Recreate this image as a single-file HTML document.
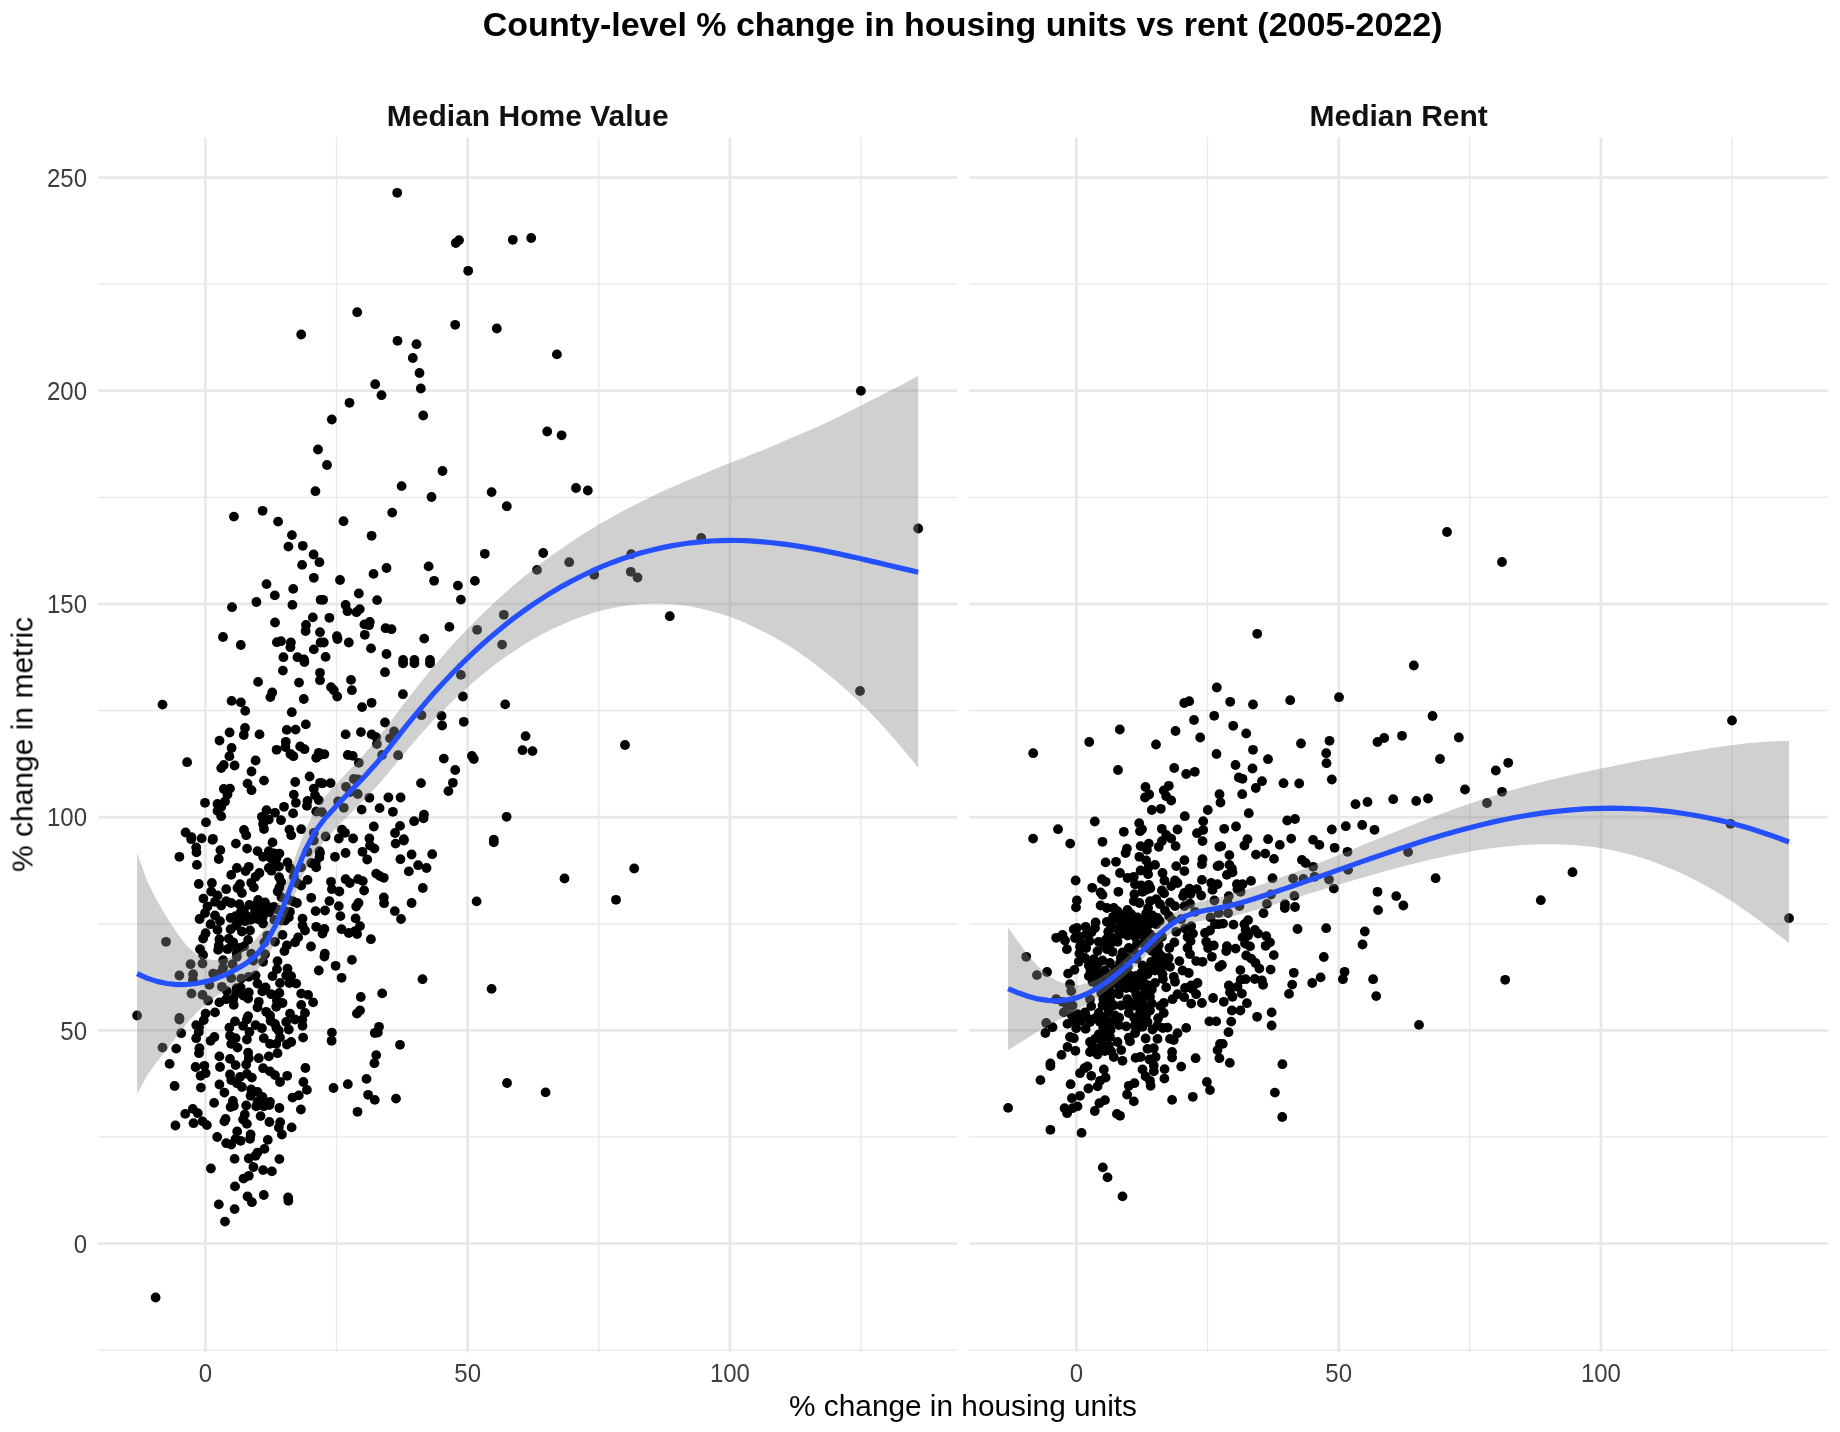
<!DOCTYPE html><html><head><meta charset="utf-8"><style>html,body{margin:0;padding:0;background:#fff}svg{display:block}text{font-family:"Liberation Sans",sans-serif}</style></head><body>
<svg width="1840" height="1432" viewBox="0 0 1840 1432">
<rect width="1840" height="1432" fill="#fff"/>
<path d="M98.2 1350.10H957.2M98.2 1136.90H957.2M98.2 923.70H957.2M98.2 710.50H957.2M98.2 497.30H957.2M98.2 284.10H957.2M336.52 137.5V1352.3M598.77 137.5V1352.3M861.02 137.5V1352.3" stroke="#E8E8E8" stroke-width="1.35" fill="none"/>
<path d="M98.2 1243.50H957.2M98.2 1030.30H957.2M98.2 817.10H957.2M98.2 603.90H957.2M98.2 390.70H957.2M98.2 177.50H957.2M205.40 137.5V1352.3M467.65 137.5V1352.3M729.90 137.5V1352.3" stroke="#E8E8E8" stroke-width="2.7" fill="none"/>
<path d="M969.2 1350.10H1828.2M969.2 1136.90H1828.2M969.2 923.70H1828.2M969.2 710.50H1828.2M969.2 497.30H1828.2M969.2 284.10H1828.2M1207.53 137.5V1352.3M1469.78 137.5V1352.3M1732.03 137.5V1352.3" stroke="#E8E8E8" stroke-width="1.35" fill="none"/>
<path d="M969.2 1243.50H1828.2M969.2 1030.30H1828.2M969.2 817.10H1828.2M969.2 603.90H1828.2M969.2 390.70H1828.2M969.2 177.50H1828.2M1076.40 137.5V1352.3M1338.65 137.5V1352.3M1600.90 137.5V1352.3" stroke="#E8E8E8" stroke-width="2.7" fill="none"/>
<g fill="#000"><circle cx="315.4" cy="491.2" r="4.9"/><circle cx="233.9" cy="516.6" r="4.9"/><circle cx="262.6" cy="510.8" r="4.9"/><circle cx="278.1" cy="521.6" r="4.9"/><circle cx="291.9" cy="535.1" r="4.9"/><circle cx="288.4" cy="546.6" r="4.9"/><circle cx="302.8" cy="545.8" r="4.9"/><circle cx="313.6" cy="554.5" r="4.9"/><circle cx="319.4" cy="562.2" r="4.9"/><circle cx="302.1" cy="564.9" r="4.9"/><circle cx="313.8" cy="577.8" r="4.9"/><circle cx="266.5" cy="584.1" r="4.9"/><circle cx="293.2" cy="588.9" r="4.9"/><circle cx="274.8" cy="595.4" r="4.9"/><circle cx="256.4" cy="602.0" r="4.9"/><circle cx="232.0" cy="607.2" r="4.9"/><circle cx="292.4" cy="604.9" r="4.9"/><circle cx="320.6" cy="599.8" r="4.9"/><circle cx="312.8" cy="617.4" r="4.9"/><circle cx="275.0" cy="622.5" r="4.9"/><circle cx="306.0" cy="625.0" r="4.9"/><circle cx="305.6" cy="631.0" r="4.9"/><circle cx="320.0" cy="632.2" r="4.9"/><circle cx="223.0" cy="637.0" r="4.9"/><circle cx="240.8" cy="645.0" r="4.9"/><circle cx="276.9" cy="642.2" r="4.9"/><circle cx="281.0" cy="641.2" r="4.9"/><circle cx="290.9" cy="642.5" r="4.9"/><circle cx="290.4" cy="647.2" r="4.9"/><circle cx="313.8" cy="649.4" r="4.9"/><circle cx="320.6" cy="642.5" r="4.9"/><circle cx="283.4" cy="657.2" r="4.9"/><circle cx="297.5" cy="657.2" r="4.9"/><circle cx="304.0" cy="659.4" r="4.9"/><circle cx="401.6" cy="486.1" r="4.9"/><circle cx="431.5" cy="497.0" r="4.9"/><circle cx="491.6" cy="492.1" r="4.9"/><circle cx="506.8" cy="506.2" r="4.9"/><circle cx="392.2" cy="512.6" r="4.9"/><circle cx="343.5" cy="521.2" r="4.9"/><circle cx="371.6" cy="535.8" r="4.9"/><circle cx="484.8" cy="553.8" r="4.9"/><circle cx="543.2" cy="553.0" r="4.9"/><circle cx="386.5" cy="568.0" r="4.9"/><circle cx="428.6" cy="566.4" r="4.9"/><circle cx="373.5" cy="573.9" r="4.9"/><circle cx="340.0" cy="580.0" r="4.9"/><circle cx="434.1" cy="580.8" r="4.9"/><circle cx="474.9" cy="580.9" r="4.9"/><circle cx="457.9" cy="585.6" r="4.9"/><circle cx="537.0" cy="569.9" r="4.9"/><circle cx="358.8" cy="593.5" r="4.9"/><circle cx="323.1" cy="599.8" r="4.9"/><circle cx="377.1" cy="600.1" r="4.9"/><circle cx="460.9" cy="599.6" r="4.9"/><circle cx="345.6" cy="605.0" r="4.9"/><circle cx="347.5" cy="611.2" r="4.9"/><circle cx="359.8" cy="609.1" r="4.9"/><circle cx="356.5" cy="612.2" r="4.9"/><circle cx="329.4" cy="617.8" r="4.9"/><circle cx="369.8" cy="621.9" r="4.9"/><circle cx="364.4" cy="624.4" r="4.9"/><circle cx="369.0" cy="625.2" r="4.9"/><circle cx="503.8" cy="614.8" r="4.9"/><circle cx="385.6" cy="628.2" r="4.9"/><circle cx="391.5" cy="629.2" r="4.9"/><circle cx="449.4" cy="626.9" r="4.9"/><circle cx="477.1" cy="629.8" r="4.9"/><circle cx="336.9" cy="636.2" r="4.9"/><circle cx="337.5" cy="639.0" r="4.9"/><circle cx="364.8" cy="634.8" r="4.9"/><circle cx="424.2" cy="638.6" r="4.9"/><circle cx="323.8" cy="642.5" r="4.9"/><circle cx="348.8" cy="642.5" r="4.9"/><circle cx="371.0" cy="648.4" r="4.9"/><circle cx="502.1" cy="644.6" r="4.9"/><circle cx="386.5" cy="654.0" r="4.9"/><circle cx="325.6" cy="656.9" r="4.9"/><circle cx="403.1" cy="660.0" r="4.9"/><circle cx="414.4" cy="660.0" r="4.9"/><circle cx="430.0" cy="660.0" r="4.9"/><circle cx="304.4" cy="662.1" r="4.9"/><circle cx="282.9" cy="670.6" r="4.9"/><circle cx="320.0" cy="672.8" r="4.9"/><circle cx="320.0" cy="680.2" r="4.9"/><circle cx="258.1" cy="681.9" r="4.9"/><circle cx="299.0" cy="682.6" r="4.9"/><circle cx="272.2" cy="692.5" r="4.9"/><circle cx="270.4" cy="697.1" r="4.9"/><circle cx="303.8" cy="699.0" r="4.9"/><circle cx="231.6" cy="700.9" r="4.9"/><circle cx="240.9" cy="702.4" r="4.9"/><circle cx="162.5" cy="704.6" r="4.9"/><circle cx="245.2" cy="710.9" r="4.9"/><circle cx="291.8" cy="712.2" r="4.9"/><circle cx="305.8" cy="724.4" r="4.9"/><circle cx="245.0" cy="728.0" r="4.9"/><circle cx="286.8" cy="729.9" r="4.9"/><circle cx="295.6" cy="729.6" r="4.9"/><circle cx="229.6" cy="732.5" r="4.9"/><circle cx="243.8" cy="735.0" r="4.9"/><circle cx="259.5" cy="734.4" r="4.9"/><circle cx="219.5" cy="740.6" r="4.9"/><circle cx="285.8" cy="741.8" r="4.9"/><circle cx="231.6" cy="748.0" r="4.9"/><circle cx="276.6" cy="749.8" r="4.9"/><circle cx="285.4" cy="747.1" r="4.9"/><circle cx="300.2" cy="746.5" r="4.9"/><circle cx="304.5" cy="749.2" r="4.9"/><circle cx="290.4" cy="754.0" r="4.9"/><circle cx="293.4" cy="756.2" r="4.9"/><circle cx="318.8" cy="752.8" r="4.9"/><circle cx="316.2" cy="757.8" r="4.9"/><circle cx="229.4" cy="756.2" r="4.9"/><circle cx="255.6" cy="760.5" r="4.9"/><circle cx="187.1" cy="762.2" r="4.9"/><circle cx="223.8" cy="765.0" r="4.9"/><circle cx="221.2" cy="768.1" r="4.9"/><circle cx="234.6" cy="765.5" r="4.9"/><circle cx="251.5" cy="771.5" r="4.9"/><circle cx="309.6" cy="776.5" r="4.9"/><circle cx="264.0" cy="780.6" r="4.9"/><circle cx="295.2" cy="782.0" r="4.9"/><circle cx="247.5" cy="783.6" r="4.9"/><circle cx="251.5" cy="790.2" r="4.9"/><circle cx="223.8" cy="789.0" r="4.9"/><circle cx="230.0" cy="788.6" r="4.9"/><circle cx="227.5" cy="794.6" r="4.9"/><circle cx="313.8" cy="788.6" r="4.9"/><circle cx="293.8" cy="794.6" r="4.9"/><circle cx="315.0" cy="795.2" r="4.9"/><circle cx="320.0" cy="782.8" r="4.9"/><circle cx="225.0" cy="801.5" r="4.9"/><circle cx="205.0" cy="802.8" r="4.9"/><circle cx="217.5" cy="804.0" r="4.9"/><circle cx="221.2" cy="807.1" r="4.9"/><circle cx="217.5" cy="810.9" r="4.9"/><circle cx="221.2" cy="816.2" r="4.9"/><circle cx="295.9" cy="802.8" r="4.9"/><circle cx="307.5" cy="800.9" r="4.9"/><circle cx="306.9" cy="805.9" r="4.9"/><circle cx="318.8" cy="800.2" r="4.9"/><circle cx="284.0" cy="806.8" r="4.9"/><circle cx="266.5" cy="810.2" r="4.9"/><circle cx="275.0" cy="812.8" r="4.9"/><circle cx="293.1" cy="813.4" r="4.9"/><circle cx="261.9" cy="816.8" r="4.9"/><circle cx="268.8" cy="819.6" r="4.9"/><circle cx="281.0" cy="820.2" r="4.9"/><circle cx="316.2" cy="811.5" r="4.9"/><circle cx="206.0" cy="822.4" r="4.9"/><circle cx="263.1" cy="824.0" r="4.9"/><circle cx="264.0" cy="829.0" r="4.9"/><circle cx="244.0" cy="830.0" r="4.9"/><circle cx="246.2" cy="835.2" r="4.9"/><circle cx="289.4" cy="829.6" r="4.9"/><circle cx="291.2" cy="835.2" r="4.9"/><circle cx="301.2" cy="829.2" r="4.9"/><circle cx="185.6" cy="832.5" r="4.9"/><circle cx="191.5" cy="837.1" r="4.9"/><circle cx="201.6" cy="838.4" r="4.9"/><circle cx="212.9" cy="838.8" r="4.9"/><circle cx="313.8" cy="832.8" r="4.9"/><circle cx="403.1" cy="663.4" r="4.9"/><circle cx="414.4" cy="663.4" r="4.9"/><circle cx="430.0" cy="663.4" r="4.9"/><circle cx="385.0" cy="672.2" r="4.9"/><circle cx="351.0" cy="679.9" r="4.9"/><circle cx="460.9" cy="674.9" r="4.9"/><circle cx="331.0" cy="687.1" r="4.9"/><circle cx="333.8" cy="690.2" r="4.9"/><circle cx="351.9" cy="690.2" r="4.9"/><circle cx="337.2" cy="696.5" r="4.9"/><circle cx="402.9" cy="694.2" r="4.9"/><circle cx="462.9" cy="696.5" r="4.9"/><circle cx="371.6" cy="702.8" r="4.9"/><circle cx="362.1" cy="707.1" r="4.9"/><circle cx="505.2" cy="704.4" r="4.9"/><circle cx="421.5" cy="715.2" r="4.9"/><circle cx="441.5" cy="715.9" r="4.9"/><circle cx="442.1" cy="725.5" r="4.9"/><circle cx="385.0" cy="722.5" r="4.9"/><circle cx="463.8" cy="721.8" r="4.9"/><circle cx="394.1" cy="731.5" r="4.9"/><circle cx="345.6" cy="734.4" r="4.9"/><circle cx="360.9" cy="732.1" r="4.9"/><circle cx="371.6" cy="734.4" r="4.9"/><circle cx="376.2" cy="737.1" r="4.9"/><circle cx="390.0" cy="738.4" r="4.9"/><circle cx="376.9" cy="744.0" r="4.9"/><circle cx="525.6" cy="736.1" r="4.9"/><circle cx="522.5" cy="750.2" r="4.9"/><circle cx="532.5" cy="751.1" r="4.9"/><circle cx="324.4" cy="754.2" r="4.9"/><circle cx="319.4" cy="755.2" r="4.9"/><circle cx="347.8" cy="755.0" r="4.9"/><circle cx="352.8" cy="755.9" r="4.9"/><circle cx="358.8" cy="762.8" r="4.9"/><circle cx="382.1" cy="755.0" r="4.9"/><circle cx="398.1" cy="755.2" r="4.9"/><circle cx="443.8" cy="758.6" r="4.9"/><circle cx="471.9" cy="755.9" r="4.9"/><circle cx="473.8" cy="759.0" r="4.9"/><circle cx="455.2" cy="770.0" r="4.9"/><circle cx="353.8" cy="779.0" r="4.9"/><circle cx="358.1" cy="779.4" r="4.9"/><circle cx="322.5" cy="783.4" r="4.9"/><circle cx="330.6" cy="783.1" r="4.9"/><circle cx="346.0" cy="786.8" r="4.9"/><circle cx="421.0" cy="783.1" r="4.9"/><circle cx="452.9" cy="782.8" r="4.9"/><circle cx="448.4" cy="791.1" r="4.9"/><circle cx="350.0" cy="792.1" r="4.9"/><circle cx="357.8" cy="794.0" r="4.9"/><circle cx="369.4" cy="797.8" r="4.9"/><circle cx="388.4" cy="797.5" r="4.9"/><circle cx="400.6" cy="797.5" r="4.9"/><circle cx="338.1" cy="801.5" r="4.9"/><circle cx="343.8" cy="807.8" r="4.9"/><circle cx="361.6" cy="809.6" r="4.9"/><circle cx="379.6" cy="808.1" r="4.9"/><circle cx="392.9" cy="811.8" r="4.9"/><circle cx="321.9" cy="812.1" r="4.9"/><circle cx="424.0" cy="814.6" r="4.9"/><circle cx="423.5" cy="818.4" r="4.9"/><circle cx="414.1" cy="821.2" r="4.9"/><circle cx="506.6" cy="816.8" r="4.9"/><circle cx="373.8" cy="826.5" r="4.9"/><circle cx="400.0" cy="825.9" r="4.9"/><circle cx="341.9" cy="829.6" r="4.9"/><circle cx="345.0" cy="832.8" r="4.9"/><circle cx="395.0" cy="833.0" r="4.9"/><circle cx="325.6" cy="836.5" r="4.9"/><circle cx="338.8" cy="838.5" r="4.9"/><circle cx="353.1" cy="838.5" r="4.9"/><circle cx="369.4" cy="838.5" r="4.9"/><circle cx="403.8" cy="839.2" r="4.9"/><circle cx="493.8" cy="839.6" r="4.9"/><circle cx="191.2" cy="839.2" r="4.9"/><circle cx="212.5" cy="839.9" r="4.9"/><circle cx="196.2" cy="847.4" r="4.9"/><circle cx="196.5" cy="852.4" r="4.9"/><circle cx="235.9" cy="843.6" r="4.9"/><circle cx="272.5" cy="842.4" r="4.9"/><circle cx="220.4" cy="850.1" r="4.9"/><circle cx="247.1" cy="848.6" r="4.9"/><circle cx="257.5" cy="851.1" r="4.9"/><circle cx="268.8" cy="851.1" r="4.9"/><circle cx="279.4" cy="853.6" r="4.9"/><circle cx="313.8" cy="840.5" r="4.9"/><circle cx="179.4" cy="856.8" r="4.9"/><circle cx="218.8" cy="859.0" r="4.9"/><circle cx="263.1" cy="856.8" r="4.9"/><circle cx="271.2" cy="858.6" r="4.9"/><circle cx="196.9" cy="864.9" r="4.9"/><circle cx="287.5" cy="862.4" r="4.9"/><circle cx="275.0" cy="866.1" r="4.9"/><circle cx="268.8" cy="868.0" r="4.9"/><circle cx="236.9" cy="868.0" r="4.9"/><circle cx="248.8" cy="866.8" r="4.9"/><circle cx="245.6" cy="871.1" r="4.9"/><circle cx="231.2" cy="874.9" r="4.9"/><circle cx="259.4" cy="873.0" r="4.9"/><circle cx="255.6" cy="876.8" r="4.9"/><circle cx="311.2" cy="863.0" r="4.9"/><circle cx="316.2" cy="867.4" r="4.9"/><circle cx="320.0" cy="853.0" r="4.9"/><circle cx="307.5" cy="851.8" r="4.9"/><circle cx="301.2" cy="867.4" r="4.9"/><circle cx="279.1" cy="877.1" r="4.9"/><circle cx="251.2" cy="882.8" r="4.9"/><circle cx="253.8" cy="887.4" r="4.9"/><circle cx="198.8" cy="884.0" r="4.9"/><circle cx="211.9" cy="883.0" r="4.9"/><circle cx="240.0" cy="884.2" r="4.9"/><circle cx="237.5" cy="888.0" r="4.9"/><circle cx="226.2" cy="889.2" r="4.9"/><circle cx="241.9" cy="893.0" r="4.9"/><circle cx="211.2" cy="891.5" r="4.9"/><circle cx="217.5" cy="895.5" r="4.9"/><circle cx="279.4" cy="887.4" r="4.9"/><circle cx="307.5" cy="879.9" r="4.9"/><circle cx="301.2" cy="885.5" r="4.9"/><circle cx="311.2" cy="897.8" r="4.9"/><circle cx="203.4" cy="898.6" r="4.9"/><circle cx="215.0" cy="901.8" r="4.9"/><circle cx="221.2" cy="905.5" r="4.9"/><circle cx="226.2" cy="901.1" r="4.9"/><circle cx="231.2" cy="903.0" r="4.9"/><circle cx="207.5" cy="906.5" r="4.9"/><circle cx="239.4" cy="904.2" r="4.9"/><circle cx="243.8" cy="910.5" r="4.9"/><circle cx="249.4" cy="904.9" r="4.9"/><circle cx="258.1" cy="899.9" r="4.9"/><circle cx="265.0" cy="902.4" r="4.9"/><circle cx="261.9" cy="907.4" r="4.9"/><circle cx="255.0" cy="911.8" r="4.9"/><circle cx="265.0" cy="911.8" r="4.9"/><circle cx="273.8" cy="906.8" r="4.9"/><circle cx="296.9" cy="903.0" r="4.9"/><circle cx="290.0" cy="911.8" r="4.9"/><circle cx="315.6" cy="911.1" r="4.9"/><circle cx="205.0" cy="913.0" r="4.9"/><circle cx="215.0" cy="915.5" r="4.9"/><circle cx="199.6" cy="919.0" r="4.9"/><circle cx="220.0" cy="921.1" r="4.9"/><circle cx="210.6" cy="924.2" r="4.9"/><circle cx="217.5" cy="929.9" r="4.9"/><circle cx="230.6" cy="918.0" r="4.9"/><circle cx="235.6" cy="916.1" r="4.9"/><circle cx="240.0" cy="921.1" r="4.9"/><circle cx="246.9" cy="916.1" r="4.9"/><circle cx="250.6" cy="919.9" r="4.9"/><circle cx="236.2" cy="925.5" r="4.9"/><circle cx="230.6" cy="929.2" r="4.9"/><circle cx="241.9" cy="931.5" r="4.9"/><circle cx="250.0" cy="930.5" r="4.9"/><circle cx="263.1" cy="923.6" r="4.9"/><circle cx="288.8" cy="917.4" r="4.9"/><circle cx="302.5" cy="918.6" r="4.9"/><circle cx="302.5" cy="925.5" r="4.9"/><circle cx="305.0" cy="930.5" r="4.9"/><circle cx="316.2" cy="926.8" r="4.9"/><circle cx="274.4" cy="919.9" r="4.9"/><circle cx="285.0" cy="920.5" r="4.9"/><circle cx="205.6" cy="933.2" r="4.9"/><circle cx="203.1" cy="938.6" r="4.9"/><circle cx="219.4" cy="939.2" r="4.9"/><circle cx="228.8" cy="938.6" r="4.9"/><circle cx="218.8" cy="945.5" r="4.9"/><circle cx="227.5" cy="949.2" r="4.9"/><circle cx="231.9" cy="945.5" r="4.9"/><circle cx="218.1" cy="949.9" r="4.9"/><circle cx="248.1" cy="939.9" r="4.9"/><circle cx="240.0" cy="948.0" r="4.9"/><circle cx="200.0" cy="949.2" r="4.9"/><circle cx="203.1" cy="954.9" r="4.9"/><circle cx="166.0" cy="941.8" r="4.9"/><circle cx="282.5" cy="934.9" r="4.9"/><circle cx="298.1" cy="937.4" r="4.9"/><circle cx="295.0" cy="942.4" r="4.9"/><circle cx="286.9" cy="945.5" r="4.9"/><circle cx="284.4" cy="951.1" r="4.9"/><circle cx="311.0" cy="946.5" r="4.9"/><circle cx="264.4" cy="942.4" r="4.9"/><circle cx="275.0" cy="941.8" r="4.9"/><circle cx="223.1" cy="960.2" r="4.9"/><circle cx="251.2" cy="953.6" r="4.9"/><circle cx="236.9" cy="956.8" r="4.9"/><circle cx="265.0" cy="954.2" r="4.9"/><circle cx="263.1" cy="961.8" r="4.9"/><circle cx="232.5" cy="964.2" r="4.9"/><circle cx="190.6" cy="964.2" r="4.9"/><circle cx="202.5" cy="963.6" r="4.9"/><circle cx="223.1" cy="968.0" r="4.9"/><circle cx="277.5" cy="961.1" r="4.9"/><circle cx="276.9" cy="969.2" r="4.9"/><circle cx="287.5" cy="968.6" r="4.9"/><circle cx="318.8" cy="970.5" r="4.9"/><circle cx="179.4" cy="975.5" r="4.9"/><circle cx="193.1" cy="974.2" r="4.9"/><circle cx="192.9" cy="979.9" r="4.9"/><circle cx="213.1" cy="973.6" r="4.9"/><circle cx="219.4" cy="973.6" r="4.9"/><circle cx="241.2" cy="978.6" r="4.9"/><circle cx="248.8" cy="976.8" r="4.9"/><circle cx="255.6" cy="975.5" r="4.9"/><circle cx="209.4" cy="984.9" r="4.9"/><circle cx="221.9" cy="986.8" r="4.9"/><circle cx="272.5" cy="976.1" r="4.9"/><circle cx="286.2" cy="975.5" r="4.9"/><circle cx="291.2" cy="976.1" r="4.9"/><circle cx="280.0" cy="983.0" r="4.9"/><circle cx="289.4" cy="983.0" r="4.9"/><circle cx="296.2" cy="983.6" r="4.9"/><circle cx="257.5" cy="983.6" r="4.9"/><circle cx="265.6" cy="987.4" r="4.9"/><circle cx="240.6" cy="987.4" r="4.9"/><circle cx="231.2" cy="978.0" r="4.9"/><circle cx="191.5" cy="993.6" r="4.9"/><circle cx="202.5" cy="994.9" r="4.9"/><circle cx="208.1" cy="1000.5" r="4.9"/><circle cx="226.9" cy="991.1" r="4.9"/><circle cx="236.2" cy="993.6" r="4.9"/><circle cx="248.8" cy="992.4" r="4.9"/><circle cx="248.1" cy="998.6" r="4.9"/><circle cx="219.4" cy="1002.4" r="4.9"/><circle cx="233.8" cy="1004.9" r="4.9"/><circle cx="226.2" cy="999.2" r="4.9"/><circle cx="258.8" cy="1001.8" r="4.9"/><circle cx="257.5" cy="1007.4" r="4.9"/><circle cx="271.2" cy="994.2" r="4.9"/><circle cx="279.4" cy="993.0" r="4.9"/><circle cx="276.9" cy="1000.5" r="4.9"/><circle cx="282.5" cy="1003.0" r="4.9"/><circle cx="276.2" cy="1006.8" r="4.9"/><circle cx="301.2" cy="993.6" r="4.9"/><circle cx="308.1" cy="994.9" r="4.9"/><circle cx="313.1" cy="1002.4" r="4.9"/><circle cx="301.2" cy="1004.9" r="4.9"/><circle cx="137.1" cy="1015.5" r="4.9"/><circle cx="179.4" cy="1018.0" r="4.9"/><circle cx="205.6" cy="1013.6" r="4.9"/><circle cx="215.0" cy="1012.4" r="4.9"/><circle cx="248.1" cy="1016.1" r="4.9"/><circle cx="266.2" cy="1011.8" r="4.9"/><circle cx="270.0" cy="1015.5" r="4.9"/><circle cx="290.0" cy="1013.6" r="4.9"/><circle cx="305.0" cy="1013.0" r="4.9"/><circle cx="403.8" cy="840.5" r="4.9"/><circle cx="395.6" cy="843.6" r="4.9"/><circle cx="493.8" cy="842.4" r="4.9"/><circle cx="370.0" cy="845.5" r="4.9"/><circle cx="374.4" cy="848.6" r="4.9"/><circle cx="362.5" cy="851.8" r="4.9"/><circle cx="345.6" cy="853.0" r="4.9"/><circle cx="319.4" cy="851.1" r="4.9"/><circle cx="319.4" cy="857.4" r="4.9"/><circle cx="335.0" cy="856.8" r="4.9"/><circle cx="367.2" cy="859.5" r="4.9"/><circle cx="411.6" cy="854.5" r="4.9"/><circle cx="432.2" cy="854.2" r="4.9"/><circle cx="400.4" cy="859.2" r="4.9"/><circle cx="418.1" cy="865.2" r="4.9"/><circle cx="426.5" cy="868.0" r="4.9"/><circle cx="408.8" cy="871.4" r="4.9"/><circle cx="376.2" cy="873.6" r="4.9"/><circle cx="380.0" cy="876.1" r="4.9"/><circle cx="383.8" cy="877.8" r="4.9"/><circle cx="345.6" cy="879.2" r="4.9"/><circle cx="349.8" cy="883.0" r="4.9"/><circle cx="358.1" cy="879.2" r="4.9"/><circle cx="362.8" cy="881.1" r="4.9"/><circle cx="331.0" cy="881.8" r="4.9"/><circle cx="331.9" cy="889.2" r="4.9"/><circle cx="339.4" cy="891.5" r="4.9"/><circle cx="364.1" cy="890.5" r="4.9"/><circle cx="422.8" cy="888.0" r="4.9"/><circle cx="383.8" cy="897.4" r="4.9"/><circle cx="384.1" cy="903.2" r="4.9"/><circle cx="329.4" cy="901.1" r="4.9"/><circle cx="338.8" cy="906.1" r="4.9"/><circle cx="358.5" cy="903.0" r="4.9"/><circle cx="356.2" cy="906.5" r="4.9"/><circle cx="325.0" cy="910.5" r="4.9"/><circle cx="411.6" cy="903.0" r="4.9"/><circle cx="476.6" cy="901.4" r="4.9"/><circle cx="394.8" cy="911.1" r="4.9"/><circle cx="401.0" cy="919.0" r="4.9"/><circle cx="340.4" cy="916.1" r="4.9"/><circle cx="355.6" cy="918.4" r="4.9"/><circle cx="360.0" cy="926.1" r="4.9"/><circle cx="324.4" cy="929.0" r="4.9"/><circle cx="322.5" cy="933.6" r="4.9"/><circle cx="341.5" cy="929.2" r="4.9"/><circle cx="348.8" cy="933.0" r="4.9"/><circle cx="355.0" cy="931.1" r="4.9"/><circle cx="357.1" cy="934.0" r="4.9"/><circle cx="370.9" cy="939.2" r="4.9"/><circle cx="324.8" cy="953.6" r="4.9"/><circle cx="324.4" cy="956.5" r="4.9"/><circle cx="351.9" cy="959.9" r="4.9"/><circle cx="335.6" cy="965.8" r="4.9"/><circle cx="341.6" cy="977.8" r="4.9"/><circle cx="422.5" cy="979.2" r="4.9"/><circle cx="491.6" cy="988.9" r="4.9"/><circle cx="382.2" cy="993.4" r="4.9"/><circle cx="360.8" cy="997.0" r="4.9"/><circle cx="360.0" cy="1010.5" r="4.9"/><circle cx="356.9" cy="1013.6" r="4.9"/><circle cx="179.4" cy="1019.5" r="4.9"/><circle cx="203.8" cy="1020.1" r="4.9"/><circle cx="196.2" cy="1025.1" r="4.9"/><circle cx="181.2" cy="1033.2" r="4.9"/><circle cx="198.8" cy="1032.0" r="4.9"/><circle cx="196.2" cy="1038.2" r="4.9"/><circle cx="214.4" cy="1037.0" r="4.9"/><circle cx="210.6" cy="1040.8" r="4.9"/><circle cx="235.0" cy="1021.4" r="4.9"/><circle cx="229.4" cy="1027.6" r="4.9"/><circle cx="230.0" cy="1035.8" r="4.9"/><circle cx="235.6" cy="1038.2" r="4.9"/><circle cx="231.2" cy="1043.9" r="4.9"/><circle cx="237.5" cy="1047.6" r="4.9"/><circle cx="246.9" cy="1019.5" r="4.9"/><circle cx="243.1" cy="1025.8" r="4.9"/><circle cx="249.4" cy="1032.0" r="4.9"/><circle cx="246.9" cy="1039.5" r="4.9"/><circle cx="255.6" cy="1025.1" r="4.9"/><circle cx="261.9" cy="1028.2" r="4.9"/><circle cx="270.6" cy="1020.8" r="4.9"/><circle cx="275.0" cy="1023.9" r="4.9"/><circle cx="278.8" cy="1030.8" r="4.9"/><circle cx="263.8" cy="1038.2" r="4.9"/><circle cx="270.0" cy="1043.9" r="4.9"/><circle cx="280.0" cy="1037.6" r="4.9"/><circle cx="276.2" cy="1043.9" r="4.9"/><circle cx="286.2" cy="1022.0" r="4.9"/><circle cx="288.8" cy="1029.5" r="4.9"/><circle cx="295.0" cy="1019.5" r="4.9"/><circle cx="302.5" cy="1025.8" r="4.9"/><circle cx="303.1" cy="1037.6" r="4.9"/><circle cx="291.2" cy="1042.0" r="4.9"/><circle cx="286.9" cy="1044.5" r="4.9"/><circle cx="162.5" cy="1047.6" r="4.9"/><circle cx="176.2" cy="1048.6" r="4.9"/><circle cx="199.4" cy="1048.2" r="4.9"/><circle cx="199.0" cy="1053.2" r="4.9"/><circle cx="219.4" cy="1056.4" r="4.9"/><circle cx="248.1" cy="1052.6" r="4.9"/><circle cx="248.8" cy="1058.2" r="4.9"/><circle cx="246.2" cy="1064.5" r="4.9"/><circle cx="230.0" cy="1058.9" r="4.9"/><circle cx="235.6" cy="1065.1" r="4.9"/><circle cx="258.8" cy="1058.2" r="4.9"/><circle cx="268.8" cy="1056.4" r="4.9"/><circle cx="277.5" cy="1053.2" r="4.9"/><circle cx="169.6" cy="1063.9" r="4.9"/><circle cx="195.6" cy="1067.0" r="4.9"/><circle cx="204.4" cy="1065.8" r="4.9"/><circle cx="205.6" cy="1073.2" r="4.9"/><circle cx="200.6" cy="1075.8" r="4.9"/><circle cx="220.0" cy="1067.0" r="4.9"/><circle cx="263.1" cy="1068.2" r="4.9"/><circle cx="270.0" cy="1071.4" r="4.9"/><circle cx="275.0" cy="1075.1" r="4.9"/><circle cx="280.0" cy="1082.0" r="4.9"/><circle cx="287.2" cy="1075.8" r="4.9"/><circle cx="305.4" cy="1068.0" r="4.9"/><circle cx="230.0" cy="1074.5" r="4.9"/><circle cx="231.2" cy="1080.1" r="4.9"/><circle cx="240.0" cy="1077.0" r="4.9"/><circle cx="246.9" cy="1073.9" r="4.9"/><circle cx="251.9" cy="1077.6" r="4.9"/><circle cx="236.9" cy="1083.2" r="4.9"/><circle cx="241.9" cy="1087.0" r="4.9"/><circle cx="174.6" cy="1086.0" r="4.9"/><circle cx="200.9" cy="1087.6" r="4.9"/><circle cx="219.4" cy="1084.5" r="4.9"/><circle cx="224.4" cy="1092.6" r="4.9"/><circle cx="251.2" cy="1089.5" r="4.9"/><circle cx="257.5" cy="1092.0" r="4.9"/><circle cx="250.6" cy="1095.8" r="4.9"/><circle cx="262.5" cy="1097.0" r="4.9"/><circle cx="257.5" cy="1102.0" r="4.9"/><circle cx="270.0" cy="1102.0" r="4.9"/><circle cx="256.2" cy="1106.4" r="4.9"/><circle cx="263.8" cy="1106.4" r="4.9"/><circle cx="269.4" cy="1105.1" r="4.9"/><circle cx="303.4" cy="1082.0" r="4.9"/><circle cx="306.9" cy="1089.9" r="4.9"/><circle cx="298.8" cy="1095.4" r="4.9"/><circle cx="292.5" cy="1097.6" r="4.9"/><circle cx="232.9" cy="1101.0" r="4.9"/><circle cx="233.8" cy="1105.8" r="4.9"/><circle cx="230.6" cy="1107.0" r="4.9"/><circle cx="214.1" cy="1102.9" r="4.9"/><circle cx="246.2" cy="1105.5" r="4.9"/><circle cx="279.4" cy="1108.0" r="4.9"/><circle cx="300.9" cy="1109.5" r="4.9"/><circle cx="192.8" cy="1108.9" r="4.9"/><circle cx="197.8" cy="1113.2" r="4.9"/><circle cx="185.2" cy="1113.9" r="4.9"/><circle cx="244.8" cy="1114.5" r="4.9"/><circle cx="243.1" cy="1119.5" r="4.9"/><circle cx="246.9" cy="1123.9" r="4.9"/><circle cx="260.6" cy="1116.1" r="4.9"/><circle cx="225.6" cy="1118.9" r="4.9"/><circle cx="224.4" cy="1121.4" r="4.9"/><circle cx="269.4" cy="1122.0" r="4.9"/><circle cx="280.2" cy="1122.2" r="4.9"/><circle cx="278.8" cy="1127.6" r="4.9"/><circle cx="281.9" cy="1134.5" r="4.9"/><circle cx="291.6" cy="1127.4" r="4.9"/><circle cx="175.4" cy="1125.5" r="4.9"/><circle cx="193.5" cy="1123.2" r="4.9"/><circle cx="202.5" cy="1121.4" r="4.9"/><circle cx="206.9" cy="1125.1" r="4.9"/><circle cx="237.2" cy="1131.4" r="4.9"/><circle cx="217.2" cy="1137.0" r="4.9"/><circle cx="250.6" cy="1134.5" r="4.9"/><circle cx="250.0" cy="1138.9" r="4.9"/><circle cx="267.8" cy="1139.9" r="4.9"/><circle cx="235.6" cy="1138.9" r="4.9"/><circle cx="240.6" cy="1140.8" r="4.9"/><circle cx="226.2" cy="1143.2" r="4.9"/><circle cx="231.2" cy="1144.5" r="4.9"/><circle cx="264.4" cy="1148.9" r="4.9"/><circle cx="257.5" cy="1152.6" r="4.9"/><circle cx="255.6" cy="1155.8" r="4.9"/><circle cx="248.8" cy="1158.5" r="4.9"/><circle cx="234.6" cy="1158.9" r="4.9"/><circle cx="279.4" cy="1159.1" r="4.9"/><circle cx="210.9" cy="1168.5" r="4.9"/><circle cx="253.4" cy="1167.0" r="4.9"/><circle cx="263.1" cy="1170.1" r="4.9"/><circle cx="271.9" cy="1171.4" r="4.9"/><circle cx="248.8" cy="1175.8" r="4.9"/><circle cx="243.5" cy="1178.6" r="4.9"/><circle cx="235.0" cy="1186.4" r="4.9"/><circle cx="247.5" cy="1196.5" r="4.9"/><circle cx="263.8" cy="1195.0" r="4.9"/><circle cx="288.1" cy="1197.5" r="4.9"/><circle cx="379.0" cy="1026.8" r="4.9"/><circle cx="377.8" cy="1032.6" r="4.9"/><circle cx="374.8" cy="1033.0" r="4.9"/><circle cx="331.9" cy="1032.6" r="4.9"/><circle cx="331.6" cy="1040.8" r="4.9"/><circle cx="400.0" cy="1044.8" r="4.9"/><circle cx="376.2" cy="1055.1" r="4.9"/><circle cx="374.4" cy="1063.2" r="4.9"/><circle cx="366.5" cy="1078.9" r="4.9"/><circle cx="347.8" cy="1084.2" r="4.9"/><circle cx="333.5" cy="1088.0" r="4.9"/><circle cx="507.0" cy="1083.0" r="4.9"/><circle cx="545.6" cy="1092.4" r="4.9"/><circle cx="368.1" cy="1094.8" r="4.9"/><circle cx="374.8" cy="1099.9" r="4.9"/><circle cx="396.0" cy="1098.6" r="4.9"/><circle cx="357.5" cy="1111.8" r="4.9"/><circle cx="251.9" cy="1202.2" r="4.9"/><circle cx="218.8" cy="1204.4" r="4.9"/><circle cx="234.6" cy="1209.1" r="4.9"/><circle cx="288.4" cy="1200.8" r="4.9"/><circle cx="225.0" cy="1221.6" r="4.9"/><circle cx="155.6" cy="1297.5" r="4.9"/><circle cx="1033.1" cy="838.6" r="4.9"/><circle cx="1070.2" cy="843.6" r="4.9"/><circle cx="1102.5" cy="841.8" r="4.9"/><circle cx="1126.9" cy="848.6" r="4.9"/><circle cx="1125.6" cy="853.0" r="4.9"/><circle cx="1140.6" cy="846.1" r="4.9"/><circle cx="1148.8" cy="843.6" r="4.9"/><circle cx="1146.9" cy="849.9" r="4.9"/><circle cx="1158.8" cy="846.8" r="4.9"/><circle cx="1161.9" cy="841.1" r="4.9"/><circle cx="1175.6" cy="846.1" r="4.9"/><circle cx="1171.2" cy="838.6" r="4.9"/><circle cx="1202.5" cy="841.1" r="4.9"/><circle cx="1219.4" cy="846.8" r="4.9"/><circle cx="1105.6" cy="862.4" r="4.9"/><circle cx="1116.0" cy="861.8" r="4.9"/><circle cx="1139.4" cy="856.8" r="4.9"/><circle cx="1146.2" cy="860.5" r="4.9"/><circle cx="1155.0" cy="864.9" r="4.9"/><circle cx="1148.8" cy="866.8" r="4.9"/><circle cx="1140.6" cy="870.5" r="4.9"/><circle cx="1184.4" cy="860.2" r="4.9"/><circle cx="1202.5" cy="859.2" r="4.9"/><circle cx="1201.9" cy="864.2" r="4.9"/><circle cx="1176.2" cy="866.1" r="4.9"/><circle cx="1184.4" cy="871.1" r="4.9"/><circle cx="1217.5" cy="866.1" r="4.9"/><circle cx="1120.0" cy="873.0" r="4.9"/><circle cx="1127.5" cy="878.0" r="4.9"/><circle cx="1133.8" cy="876.8" r="4.9"/><circle cx="1148.1" cy="874.2" r="4.9"/><circle cx="1162.5" cy="873.0" r="4.9"/><circle cx="1164.4" cy="880.5" r="4.9"/><circle cx="1175.0" cy="880.5" r="4.9"/><circle cx="1177.5" cy="883.0" r="4.9"/><circle cx="1201.9" cy="879.9" r="4.9"/><circle cx="1211.2" cy="883.0" r="4.9"/><circle cx="1217.5" cy="884.2" r="4.9"/><circle cx="1101.9" cy="879.2" r="4.9"/><circle cx="1105.6" cy="881.8" r="4.9"/><circle cx="1075.6" cy="880.5" r="4.9"/><circle cx="1092.2" cy="887.8" r="4.9"/><circle cx="1100.6" cy="892.4" r="4.9"/><circle cx="1102.5" cy="894.9" r="4.9"/><circle cx="1118.4" cy="891.8" r="4.9"/><circle cx="1135.0" cy="884.2" r="4.9"/><circle cx="1141.2" cy="885.5" r="4.9"/><circle cx="1148.8" cy="884.9" r="4.9"/><circle cx="1146.2" cy="889.9" r="4.9"/><circle cx="1142.5" cy="891.8" r="4.9"/><circle cx="1134.4" cy="894.2" r="4.9"/><circle cx="1161.9" cy="890.5" r="4.9"/><circle cx="1171.2" cy="886.1" r="4.9"/><circle cx="1189.4" cy="888.6" r="4.9"/><circle cx="1196.9" cy="889.2" r="4.9"/><circle cx="1184.4" cy="893.0" r="4.9"/><circle cx="1183.1" cy="896.1" r="4.9"/><circle cx="1201.2" cy="895.5" r="4.9"/><circle cx="1212.5" cy="889.9" r="4.9"/><circle cx="1076.9" cy="900.5" r="4.9"/><circle cx="1076.0" cy="907.4" r="4.9"/><circle cx="1133.8" cy="901.1" r="4.9"/><circle cx="1139.4" cy="903.0" r="4.9"/><circle cx="1150.0" cy="901.1" r="4.9"/><circle cx="1156.2" cy="899.2" r="4.9"/><circle cx="1160.0" cy="904.2" r="4.9"/><circle cx="1170.0" cy="902.4" r="4.9"/><circle cx="1175.0" cy="906.1" r="4.9"/><circle cx="1148.1" cy="908.0" r="4.9"/><circle cx="1184.4" cy="906.1" r="4.9"/><circle cx="1190.0" cy="903.6" r="4.9"/><circle cx="1214.4" cy="900.5" r="4.9"/><circle cx="1100.6" cy="905.5" r="4.9"/><circle cx="1106.9" cy="908.0" r="4.9"/><circle cx="1113.8" cy="908.0" r="4.9"/><circle cx="1117.5" cy="911.1" r="4.9"/><circle cx="1127.5" cy="909.9" r="4.9"/><circle cx="1131.2" cy="914.2" r="4.9"/><circle cx="1137.5" cy="917.4" r="4.9"/><circle cx="1145.0" cy="919.2" r="4.9"/><circle cx="1152.5" cy="915.5" r="4.9"/><circle cx="1157.5" cy="918.0" r="4.9"/><circle cx="1165.0" cy="910.5" r="4.9"/><circle cx="1195.0" cy="911.8" r="4.9"/><circle cx="1210.6" cy="917.4" r="4.9"/><circle cx="1218.8" cy="913.0" r="4.9"/><circle cx="1106.9" cy="921.8" r="4.9"/><circle cx="1113.1" cy="916.8" r="4.9"/><circle cx="1117.5" cy="919.2" r="4.9"/><circle cx="1122.5" cy="921.8" r="4.9"/><circle cx="1127.5" cy="924.2" r="4.9"/><circle cx="1095.6" cy="922.4" r="4.9"/><circle cx="1085.6" cy="926.8" r="4.9"/><circle cx="1076.9" cy="928.0" r="4.9"/><circle cx="1073.8" cy="929.2" r="4.9"/><circle cx="1095.0" cy="928.0" r="4.9"/><circle cx="1135.0" cy="928.0" r="4.9"/><circle cx="1141.2" cy="931.8" r="4.9"/><circle cx="1151.2" cy="923.0" r="4.9"/><circle cx="1156.2" cy="924.2" r="4.9"/><circle cx="1172.5" cy="920.5" r="4.9"/><circle cx="1181.2" cy="919.2" r="4.9"/><circle cx="1191.2" cy="926.1" r="4.9"/><circle cx="1176.2" cy="931.8" r="4.9"/><circle cx="1218.8" cy="924.2" r="4.9"/><circle cx="1056.2" cy="937.8" r="4.9"/><circle cx="1062.5" cy="934.9" r="4.9"/><circle cx="1065.0" cy="940.5" r="4.9"/><circle cx="1075.0" cy="938.0" r="4.9"/><circle cx="1080.0" cy="936.8" r="4.9"/><circle cx="1086.2" cy="934.2" r="4.9"/><circle cx="1081.2" cy="943.0" r="4.9"/><circle cx="1108.8" cy="935.5" r="4.9"/><circle cx="1112.5" cy="938.0" r="4.9"/><circle cx="1120.0" cy="934.2" r="4.9"/><circle cx="1127.5" cy="935.5" r="4.9"/><circle cx="1133.8" cy="933.0" r="4.9"/><circle cx="1098.8" cy="941.8" r="4.9"/><circle cx="1103.8" cy="944.2" r="4.9"/><circle cx="1110.0" cy="944.2" r="4.9"/><circle cx="1117.5" cy="941.8" r="4.9"/><circle cx="1150.0" cy="934.2" r="4.9"/><circle cx="1161.9" cy="936.8" r="4.9"/><circle cx="1187.5" cy="936.8" r="4.9"/><circle cx="1190.6" cy="941.1" r="4.9"/><circle cx="1174.4" cy="942.4" r="4.9"/><circle cx="1205.0" cy="933.0" r="4.9"/><circle cx="1210.0" cy="930.5" r="4.9"/><circle cx="1206.2" cy="941.8" r="4.9"/><circle cx="1213.8" cy="945.5" r="4.9"/><circle cx="1066.9" cy="949.2" r="4.9"/><circle cx="1080.0" cy="946.8" r="4.9"/><circle cx="1086.2" cy="948.0" r="4.9"/><circle cx="1079.4" cy="953.6" r="4.9"/><circle cx="1097.5" cy="951.1" r="4.9"/><circle cx="1106.9" cy="949.2" r="4.9"/><circle cx="1112.5" cy="951.8" r="4.9"/><circle cx="1122.5" cy="952.4" r="4.9"/><circle cx="1128.8" cy="948.0" r="4.9"/><circle cx="1133.8" cy="950.5" r="4.9"/><circle cx="1169.4" cy="948.0" r="4.9"/><circle cx="1187.5" cy="948.0" r="4.9"/><circle cx="1190.0" cy="954.2" r="4.9"/><circle cx="1208.1" cy="948.0" r="4.9"/><circle cx="1211.9" cy="956.8" r="4.9"/><circle cx="1151.9" cy="951.1" r="4.9"/><circle cx="1158.8" cy="953.0" r="4.9"/><circle cx="1162.5" cy="956.8" r="4.9"/><circle cx="1168.8" cy="958.0" r="4.9"/><circle cx="1179.4" cy="961.1" r="4.9"/><circle cx="1196.2" cy="961.1" r="4.9"/><circle cx="1202.5" cy="961.8" r="4.9"/><circle cx="1026.2" cy="956.8" r="4.9"/><circle cx="1078.8" cy="961.8" r="4.9"/><circle cx="1088.8" cy="965.5" r="4.9"/><circle cx="1085.0" cy="958.0" r="4.9"/><circle cx="1093.8" cy="959.2" r="4.9"/><circle cx="1102.5" cy="960.5" r="4.9"/><circle cx="1110.0" cy="963.0" r="4.9"/><circle cx="1120.0" cy="963.0" r="4.9"/><circle cx="1127.5" cy="958.0" r="4.9"/><circle cx="1142.5" cy="965.5" r="4.9"/><circle cx="1151.2" cy="961.8" r="4.9"/><circle cx="1157.5" cy="964.2" r="4.9"/><circle cx="1165.0" cy="964.2" r="4.9"/><circle cx="1170.0" cy="966.8" r="4.9"/><circle cx="1182.5" cy="970.5" r="4.9"/><circle cx="1188.8" cy="973.0" r="4.9"/><circle cx="1219.4" cy="966.8" r="4.9"/><circle cx="1047.1" cy="972.0" r="4.9"/><circle cx="1036.9" cy="975.1" r="4.9"/><circle cx="1068.1" cy="973.6" r="4.9"/><circle cx="1074.4" cy="969.9" r="4.9"/><circle cx="1088.8" cy="976.1" r="4.9"/><circle cx="1096.2" cy="970.5" r="4.9"/><circle cx="1105.0" cy="970.5" r="4.9"/><circle cx="1115.0" cy="969.2" r="4.9"/><circle cx="1092.5" cy="981.8" r="4.9"/><circle cx="1141.2" cy="973.0" r="4.9"/><circle cx="1147.5" cy="974.2" r="4.9"/><circle cx="1155.0" cy="970.5" r="4.9"/><circle cx="1162.5" cy="974.2" r="4.9"/><circle cx="1173.8" cy="976.8" r="4.9"/><circle cx="1155.0" cy="983.0" r="4.9"/><circle cx="1166.2" cy="987.4" r="4.9"/><circle cx="1175.0" cy="981.8" r="4.9"/><circle cx="1185.0" cy="988.0" r="4.9"/><circle cx="1191.2" cy="985.5" r="4.9"/><circle cx="1197.5" cy="983.0" r="4.9"/><circle cx="1196.2" cy="994.2" r="4.9"/><circle cx="1177.5" cy="994.2" r="4.9"/><circle cx="1172.5" cy="999.2" r="4.9"/><circle cx="1163.8" cy="1003.0" r="4.9"/><circle cx="1191.2" cy="1003.6" r="4.9"/><circle cx="1201.9" cy="1003.0" r="4.9"/><circle cx="1213.1" cy="998.0" r="4.9"/><circle cx="1070.0" cy="984.2" r="4.9"/><circle cx="1071.2" cy="991.1" r="4.9"/><circle cx="1056.2" cy="999.2" r="4.9"/><circle cx="1062.5" cy="1001.8" r="4.9"/><circle cx="1072.5" cy="1005.5" r="4.9"/><circle cx="1063.8" cy="1012.4" r="4.9"/><circle cx="1090.0" cy="999.2" r="4.9"/><circle cx="1091.2" cy="1006.1" r="4.9"/><circle cx="1085.0" cy="1012.4" r="4.9"/><circle cx="1101.2" cy="993.0" r="4.9"/><circle cx="1108.8" cy="988.0" r="4.9"/><circle cx="1115.0" cy="983.0" r="4.9"/><circle cx="1122.5" cy="979.2" r="4.9"/><circle cx="1130.0" cy="975.5" r="4.9"/><circle cx="1133.8" cy="981.8" r="4.9"/><circle cx="1140.0" cy="985.5" r="4.9"/><circle cx="1126.2" cy="988.0" r="4.9"/><circle cx="1118.8" cy="994.2" r="4.9"/><circle cx="1110.0" cy="999.2" r="4.9"/><circle cx="1127.5" cy="999.2" r="4.9"/><circle cx="1136.2" cy="994.2" r="4.9"/><circle cx="1145.0" cy="991.8" r="4.9"/><circle cx="1150.0" cy="996.8" r="4.9"/><circle cx="1142.5" cy="1003.0" r="4.9"/><circle cx="1133.8" cy="1005.5" r="4.9"/><circle cx="1121.2" cy="1005.5" r="4.9"/><circle cx="1102.5" cy="1005.5" r="4.9"/><circle cx="1108.8" cy="1010.5" r="4.9"/><circle cx="1098.8" cy="1013.0" r="4.9"/><circle cx="1128.8" cy="1013.0" r="4.9"/><circle cx="1140.0" cy="1013.0" r="4.9"/><circle cx="1150.0" cy="1010.5" r="4.9"/><circle cx="1163.8" cy="1013.0" r="4.9"/><circle cx="1077.5" cy="1014.2" r="4.9"/><circle cx="1115.0" cy="1015.5" r="4.9"/><circle cx="1221.2" cy="846.1" r="4.9"/><circle cx="1244.4" cy="845.5" r="4.9"/><circle cx="1247.5" cy="839.2" r="4.9"/><circle cx="1268.1" cy="839.2" r="4.9"/><circle cx="1279.8" cy="844.9" r="4.9"/><circle cx="1291.2" cy="838.6" r="4.9"/><circle cx="1313.1" cy="839.9" r="4.9"/><circle cx="1319.4" cy="844.9" r="4.9"/><circle cx="1334.6" cy="847.8" r="4.9"/><circle cx="1347.5" cy="851.8" r="4.9"/><circle cx="1229.4" cy="855.1" r="4.9"/><circle cx="1256.0" cy="854.6" r="4.9"/><circle cx="1265.2" cy="853.6" r="4.9"/><circle cx="1274.0" cy="858.9" r="4.9"/><circle cx="1301.9" cy="859.9" r="4.9"/><circle cx="1305.6" cy="863.0" r="4.9"/><circle cx="1313.1" cy="866.8" r="4.9"/><circle cx="1219.4" cy="865.5" r="4.9"/><circle cx="1229.4" cy="864.9" r="4.9"/><circle cx="1231.9" cy="868.6" r="4.9"/><circle cx="1232.5" cy="872.4" r="4.9"/><circle cx="1226.9" cy="874.9" r="4.9"/><circle cx="1251.0" cy="880.9" r="4.9"/><circle cx="1272.5" cy="878.2" r="4.9"/><circle cx="1293.1" cy="878.6" r="4.9"/><circle cx="1303.4" cy="878.9" r="4.9"/><circle cx="1314.6" cy="876.8" r="4.9"/><circle cx="1348.1" cy="869.9" r="4.9"/><circle cx="1329.0" cy="879.6" r="4.9"/><circle cx="1333.8" cy="888.6" r="4.9"/><circle cx="1408.1" cy="852.1" r="4.9"/><circle cx="1435.6" cy="878.2" r="4.9"/><circle cx="1236.9" cy="884.2" r="4.9"/><circle cx="1242.5" cy="884.2" r="4.9"/><circle cx="1237.5" cy="889.2" r="4.9"/><circle cx="1240.6" cy="891.8" r="4.9"/><circle cx="1228.8" cy="896.1" r="4.9"/><circle cx="1271.0" cy="894.5" r="4.9"/><circle cx="1294.4" cy="895.9" r="4.9"/><circle cx="1227.5" cy="902.4" r="4.9"/><circle cx="1239.4" cy="906.1" r="4.9"/><circle cx="1266.9" cy="903.9" r="4.9"/><circle cx="1285.0" cy="904.2" r="4.9"/><circle cx="1284.8" cy="908.0" r="4.9"/><circle cx="1295.0" cy="907.0" r="4.9"/><circle cx="1228.1" cy="913.0" r="4.9"/><circle cx="1263.5" cy="913.2" r="4.9"/><circle cx="1377.5" cy="891.8" r="4.9"/><circle cx="1396.2" cy="896.1" r="4.9"/><circle cx="1403.4" cy="905.5" r="4.9"/><circle cx="1378.1" cy="910.1" r="4.9"/><circle cx="1248.1" cy="920.1" r="4.9"/><circle cx="1223.1" cy="923.6" r="4.9"/><circle cx="1233.5" cy="924.6" r="4.9"/><circle cx="1244.4" cy="924.2" r="4.9"/><circle cx="1245.6" cy="929.9" r="4.9"/><circle cx="1255.0" cy="929.9" r="4.9"/><circle cx="1258.1" cy="933.6" r="4.9"/><circle cx="1297.5" cy="929.0" r="4.9"/><circle cx="1326.2" cy="928.2" r="4.9"/><circle cx="1364.8" cy="931.5" r="4.9"/><circle cx="1242.5" cy="937.4" r="4.9"/><circle cx="1248.1" cy="935.5" r="4.9"/><circle cx="1266.2" cy="936.1" r="4.9"/><circle cx="1270.0" cy="942.4" r="4.9"/><circle cx="1265.6" cy="945.8" r="4.9"/><circle cx="1245.0" cy="943.6" r="4.9"/><circle cx="1250.0" cy="946.4" r="4.9"/><circle cx="1226.9" cy="946.1" r="4.9"/><circle cx="1226.2" cy="951.1" r="4.9"/><circle cx="1235.6" cy="948.6" r="4.9"/><circle cx="1362.5" cy="944.5" r="4.9"/><circle cx="1246.2" cy="955.5" r="4.9"/><circle cx="1251.2" cy="958.6" r="4.9"/><circle cx="1255.6" cy="963.0" r="4.9"/><circle cx="1259.4" cy="968.6" r="4.9"/><circle cx="1273.8" cy="955.1" r="4.9"/><circle cx="1323.8" cy="957.0" r="4.9"/><circle cx="1221.9" cy="964.9" r="4.9"/><circle cx="1270.6" cy="969.6" r="4.9"/><circle cx="1240.4" cy="970.1" r="4.9"/><circle cx="1293.8" cy="972.8" r="4.9"/><circle cx="1344.6" cy="971.8" r="4.9"/><circle cx="1342.9" cy="979.2" r="4.9"/><circle cx="1320.6" cy="977.4" r="4.9"/><circle cx="1312.2" cy="983.0" r="4.9"/><circle cx="1373.1" cy="979.2" r="4.9"/><circle cx="1245.6" cy="979.2" r="4.9"/><circle cx="1240.6" cy="979.9" r="4.9"/><circle cx="1254.8" cy="979.0" r="4.9"/><circle cx="1261.9" cy="980.5" r="4.9"/><circle cx="1263.1" cy="984.9" r="4.9"/><circle cx="1292.2" cy="984.6" r="4.9"/><circle cx="1228.8" cy="985.5" r="4.9"/><circle cx="1237.5" cy="986.8" r="4.9"/><circle cx="1230.0" cy="992.4" r="4.9"/><circle cx="1241.9" cy="993.6" r="4.9"/><circle cx="1232.5" cy="996.8" r="4.9"/><circle cx="1289.0" cy="993.9" r="4.9"/><circle cx="1376.2" cy="996.1" r="4.9"/><circle cx="1223.8" cy="1001.8" r="4.9"/><circle cx="1246.9" cy="1003.2" r="4.9"/><circle cx="1231.9" cy="1010.5" r="4.9"/><circle cx="1240.4" cy="1010.5" r="4.9"/><circle cx="1271.6" cy="1012.4" r="4.9"/><circle cx="1257.1" cy="1016.8" r="4.9"/><circle cx="1046.2" cy="1023.0" r="4.9"/><circle cx="1052.5" cy="1027.2" r="4.9"/><circle cx="1045.4" cy="1033.0" r="4.9"/><circle cx="1067.5" cy="1023.9" r="4.9"/><circle cx="1076.2" cy="1028.2" r="4.9"/><circle cx="1085.6" cy="1028.9" r="4.9"/><circle cx="1070.0" cy="1037.0" r="4.9"/><circle cx="1073.8" cy="1038.2" r="4.9"/><circle cx="1067.5" cy="1047.0" r="4.9"/><circle cx="1075.4" cy="1050.8" r="4.9"/><circle cx="1061.5" cy="1054.9" r="4.9"/><circle cx="1050.4" cy="1063.5" r="4.9"/><circle cx="1050.4" cy="1066.0" r="4.9"/><circle cx="1040.4" cy="1080.1" r="4.9"/><circle cx="1008.1" cy="1107.9" r="4.9"/><circle cx="1050.4" cy="1129.8" r="4.9"/><circle cx="1081.6" cy="1132.9" r="4.9"/><circle cx="1102.8" cy="1167.4" r="4.9"/><circle cx="1107.5" cy="1177.4" r="4.9"/><circle cx="1122.5" cy="1196.4" r="4.9"/><circle cx="1081.2" cy="1020.8" r="4.9"/><circle cx="1090.0" cy="1022.0" r="4.9"/><circle cx="1100.0" cy="1022.0" r="4.9"/><circle cx="1107.5" cy="1024.5" r="4.9"/><circle cx="1118.8" cy="1025.1" r="4.9"/><circle cx="1126.2" cy="1026.4" r="4.9"/><circle cx="1136.2" cy="1029.5" r="4.9"/><circle cx="1135.0" cy="1033.2" r="4.9"/><circle cx="1147.5" cy="1022.0" r="4.9"/><circle cx="1152.5" cy="1029.5" r="4.9"/><circle cx="1157.5" cy="1025.8" r="4.9"/><circle cx="1167.5" cy="1027.6" r="4.9"/><circle cx="1158.1" cy="1018.2" r="4.9"/><circle cx="1186.2" cy="1027.9" r="4.9"/><circle cx="1177.5" cy="1033.2" r="4.9"/><circle cx="1170.0" cy="1038.9" r="4.9"/><circle cx="1173.8" cy="1040.1" r="4.9"/><circle cx="1157.5" cy="1038.9" r="4.9"/><circle cx="1145.6" cy="1038.5" r="4.9"/><circle cx="1128.8" cy="1037.6" r="4.9"/><circle cx="1130.0" cy="1041.4" r="4.9"/><circle cx="1098.8" cy="1034.5" r="4.9"/><circle cx="1105.0" cy="1033.2" r="4.9"/><circle cx="1110.0" cy="1037.0" r="4.9"/><circle cx="1095.0" cy="1038.9" r="4.9"/><circle cx="1090.0" cy="1042.0" r="4.9"/><circle cx="1102.5" cy="1042.0" r="4.9"/><circle cx="1108.8" cy="1045.8" r="4.9"/><circle cx="1117.5" cy="1042.0" r="4.9"/><circle cx="1121.2" cy="1050.1" r="4.9"/><circle cx="1098.8" cy="1048.2" r="4.9"/><circle cx="1090.0" cy="1052.0" r="4.9"/><circle cx="1097.5" cy="1054.5" r="4.9"/><circle cx="1113.8" cy="1057.0" r="4.9"/><circle cx="1122.5" cy="1060.8" r="4.9"/><circle cx="1147.5" cy="1048.9" r="4.9"/><circle cx="1153.8" cy="1048.2" r="4.9"/><circle cx="1135.6" cy="1057.9" r="4.9"/><circle cx="1140.6" cy="1057.0" r="4.9"/><circle cx="1149.4" cy="1059.5" r="4.9"/><circle cx="1155.6" cy="1057.0" r="4.9"/><circle cx="1172.1" cy="1052.0" r="4.9"/><circle cx="1172.1" cy="1057.6" r="4.9"/><circle cx="1195.6" cy="1058.2" r="4.9"/><circle cx="1217.5" cy="1050.1" r="4.9"/><circle cx="1219.4" cy="1058.2" r="4.9"/><circle cx="1220.0" cy="1043.9" r="4.9"/><circle cx="1209.4" cy="1021.4" r="4.9"/><circle cx="1216.2" cy="1021.4" r="4.9"/><circle cx="1153.8" cy="1065.8" r="4.9"/><circle cx="1153.8" cy="1071.4" r="4.9"/><circle cx="1142.5" cy="1069.5" r="4.9"/><circle cx="1145.6" cy="1076.4" r="4.9"/><circle cx="1150.0" cy="1080.8" r="4.9"/><circle cx="1150.6" cy="1085.8" r="4.9"/><circle cx="1164.6" cy="1069.1" r="4.9"/><circle cx="1164.4" cy="1078.6" r="4.9"/><circle cx="1181.2" cy="1066.6" r="4.9"/><circle cx="1206.9" cy="1082.0" r="4.9"/><circle cx="1210.0" cy="1090.1" r="4.9"/><circle cx="1192.8" cy="1096.8" r="4.9"/><circle cx="1172.1" cy="1099.9" r="4.9"/><circle cx="1087.5" cy="1066.4" r="4.9"/><circle cx="1084.4" cy="1068.2" r="4.9"/><circle cx="1080.0" cy="1073.2" r="4.9"/><circle cx="1091.2" cy="1075.8" r="4.9"/><circle cx="1103.8" cy="1069.5" r="4.9"/><circle cx="1105.6" cy="1077.6" r="4.9"/><circle cx="1100.0" cy="1080.8" r="4.9"/><circle cx="1097.5" cy="1086.4" r="4.9"/><circle cx="1088.4" cy="1088.5" r="4.9"/><circle cx="1070.6" cy="1084.2" r="4.9"/><circle cx="1134.4" cy="1083.2" r="4.9"/><circle cx="1128.8" cy="1085.8" r="4.9"/><circle cx="1127.1" cy="1094.5" r="4.9"/><circle cx="1133.8" cy="1101.4" r="4.9"/><circle cx="1080.0" cy="1095.8" r="4.9"/><circle cx="1071.9" cy="1098.2" r="4.9"/><circle cx="1077.5" cy="1106.4" r="4.9"/><circle cx="1072.5" cy="1108.2" r="4.9"/><circle cx="1064.6" cy="1108.2" r="4.9"/><circle cx="1067.1" cy="1113.2" r="4.9"/><circle cx="1105.0" cy="1100.1" r="4.9"/><circle cx="1099.4" cy="1103.2" r="4.9"/><circle cx="1094.8" cy="1111.0" r="4.9"/><circle cx="1116.9" cy="1113.9" r="4.9"/><circle cx="1120.0" cy="1115.8" r="4.9"/><circle cx="1231.2" cy="1021.6" r="4.9"/><circle cx="1271.6" cy="1025.5" r="4.9"/><circle cx="1228.5" cy="1032.2" r="4.9"/><circle cx="1419.0" cy="1024.9" r="4.9"/><circle cx="1222.8" cy="1043.9" r="4.9"/><circle cx="1229.8" cy="1062.9" r="4.9"/><circle cx="1282.4" cy="1064.2" r="4.9"/><circle cx="1274.9" cy="1092.6" r="4.9"/><circle cx="1282.2" cy="1117.0" r="4.9"/><circle cx="397.2" cy="192.8" r="4.9"/><circle cx="455.8" cy="243.0" r="4.9"/><circle cx="459.0" cy="240.2" r="4.9"/><circle cx="512.8" cy="239.8" r="4.9"/><circle cx="531.2" cy="238.0" r="4.9"/><circle cx="468.2" cy="270.8" r="4.9"/><circle cx="357.2" cy="312.2" r="4.9"/><circle cx="301.2" cy="334.5" r="4.9"/><circle cx="455.2" cy="324.8" r="4.9"/><circle cx="496.8" cy="328.5" r="4.9"/><circle cx="397.5" cy="340.8" r="4.9"/><circle cx="416.5" cy="344.2" r="4.9"/><circle cx="412.8" cy="358.0" r="4.9"/><circle cx="419.5" cy="373.0" r="4.9"/><circle cx="375.2" cy="384.2" r="4.9"/><circle cx="420.8" cy="388.5" r="4.9"/><circle cx="381.5" cy="395.2" r="4.9"/><circle cx="349.5" cy="402.8" r="4.9"/><circle cx="331.8" cy="419.5" r="4.9"/><circle cx="423.2" cy="415.5" r="4.9"/><circle cx="547.2" cy="431.5" r="4.9"/><circle cx="318.0" cy="449.5" r="4.9"/><circle cx="327.0" cy="465.0" r="4.9"/><circle cx="442.5" cy="471.0" r="4.9"/><circle cx="576.0" cy="488.0" r="4.9"/><circle cx="587.8" cy="490.5" r="4.9"/><circle cx="569.2" cy="562.2" r="4.9"/><circle cx="631.2" cy="554.2" r="4.9"/><circle cx="630.8" cy="571.8" r="4.9"/><circle cx="637.5" cy="577.5" r="4.9"/><circle cx="594.2" cy="574.8" r="4.9"/><circle cx="701.2" cy="538.0" r="4.9"/><circle cx="918.2" cy="528.5" r="4.9"/><circle cx="669.8" cy="616.2" r="4.9"/><circle cx="860.0" cy="691.0" r="4.9"/><circle cx="625.0" cy="745.0" r="4.9"/><circle cx="564.5" cy="878.5" r="4.9"/><circle cx="634.2" cy="868.5" r="4.9"/><circle cx="616.0" cy="899.8" r="4.9"/><circle cx="1257.2" cy="633.8" r="4.9"/><circle cx="1413.8" cy="665.5" r="4.9"/><circle cx="1216.8" cy="687.5" r="4.9"/><circle cx="1339.0" cy="697.2" r="4.9"/><circle cx="1290.2" cy="700.2" r="4.9"/><circle cx="1184.2" cy="703.0" r="4.9"/><circle cx="1189.2" cy="701.2" r="4.9"/><circle cx="1230.2" cy="701.8" r="4.9"/><circle cx="1253.0" cy="704.5" r="4.9"/><circle cx="1214.2" cy="715.8" r="4.9"/><circle cx="1194.0" cy="720.0" r="4.9"/><circle cx="1233.2" cy="725.8" r="4.9"/><circle cx="1119.8" cy="729.5" r="4.9"/><circle cx="1175.5" cy="731.0" r="4.9"/><circle cx="1246.2" cy="733.5" r="4.9"/><circle cx="1200.2" cy="737.5" r="4.9"/><circle cx="1089.2" cy="742.0" r="4.9"/><circle cx="1156.0" cy="744.5" r="4.9"/><circle cx="1301.0" cy="743.5" r="4.9"/><circle cx="1329.5" cy="740.8" r="4.9"/><circle cx="1377.5" cy="742.0" r="4.9"/><circle cx="1384.2" cy="738.0" r="4.9"/><circle cx="1402.0" cy="735.8" r="4.9"/><circle cx="1033.2" cy="753.2" r="4.9"/><circle cx="1253.0" cy="749.8" r="4.9"/><circle cx="1216.5" cy="754.0" r="4.9"/><circle cx="1326.2" cy="753.2" r="4.9"/><circle cx="1268.0" cy="759.2" r="4.9"/><circle cx="1326.5" cy="763.2" r="4.9"/><circle cx="1235.5" cy="765.0" r="4.9"/><circle cx="1118.0" cy="770.0" r="4.9"/><circle cx="1174.2" cy="768.0" r="4.9"/><circle cx="1252.5" cy="768.5" r="4.9"/><circle cx="1186.2" cy="774.0" r="4.9"/><circle cx="1194.8" cy="771.8" r="4.9"/><circle cx="1238.8" cy="777.5" r="4.9"/><circle cx="1242.5" cy="778.8" r="4.9"/><circle cx="1262.0" cy="781.2" r="4.9"/><circle cx="1331.8" cy="779.5" r="4.9"/><circle cx="1283.5" cy="783.2" r="4.9"/><circle cx="1299.2" cy="783.5" r="4.9"/><circle cx="1145.5" cy="787.0" r="4.9"/><circle cx="1168.8" cy="785.8" r="4.9"/><circle cx="1163.8" cy="790.5" r="4.9"/><circle cx="1255.8" cy="788.0" r="4.9"/><circle cx="1149.2" cy="794.5" r="4.9"/><circle cx="1145.0" cy="797.5" r="4.9"/><circle cx="1166.2" cy="796.2" r="4.9"/><circle cx="1171.2" cy="800.5" r="4.9"/><circle cx="1219.5" cy="794.2" r="4.9"/><circle cx="1220.5" cy="802.5" r="4.9"/><circle cx="1242.2" cy="794.2" r="4.9"/><circle cx="1393.2" cy="799.2" r="4.9"/><circle cx="1416.2" cy="801.0" r="4.9"/><circle cx="1367.5" cy="802.0" r="4.9"/><circle cx="1355.5" cy="804.2" r="4.9"/><circle cx="1151.8" cy="810.0" r="4.9"/><circle cx="1160.8" cy="808.8" r="4.9"/><circle cx="1207.8" cy="810.0" r="4.9"/><circle cx="1248.8" cy="813.2" r="4.9"/><circle cx="1184.8" cy="816.2" r="4.9"/><circle cx="1094.8" cy="821.5" r="4.9"/><circle cx="1203.2" cy="821.2" r="4.9"/><circle cx="1287.2" cy="820.5" r="4.9"/><circle cx="1295.0" cy="819.0" r="4.9"/><circle cx="1139.2" cy="823.2" r="4.9"/><circle cx="1058.0" cy="829.2" r="4.9"/><circle cx="1142.0" cy="829.2" r="4.9"/><circle cx="1140.0" cy="831.2" r="4.9"/><circle cx="1161.8" cy="828.8" r="4.9"/><circle cx="1177.5" cy="829.5" r="4.9"/><circle cx="1203.2" cy="830.0" r="4.9"/><circle cx="1197.0" cy="833.2" r="4.9"/><circle cx="1224.2" cy="828.8" r="4.9"/><circle cx="1236.0" cy="826.5" r="4.9"/><circle cx="1331.8" cy="829.5" r="4.9"/><circle cx="1345.8" cy="826.2" r="4.9"/><circle cx="1362.2" cy="825.0" r="4.9"/><circle cx="1374.5" cy="829.8" r="4.9"/><circle cx="1123.8" cy="831.8" r="4.9"/><circle cx="1166.2" cy="835.0" r="4.9"/><circle cx="1447.0" cy="532.0" r="4.9"/><circle cx="1502.0" cy="562.0" r="4.9"/><circle cx="1432.5" cy="716.0" r="4.9"/><circle cx="1732.0" cy="720.5" r="4.9"/><circle cx="1458.8" cy="737.5" r="4.9"/><circle cx="1440.0" cy="759.0" r="4.9"/><circle cx="1508.2" cy="762.8" r="4.9"/><circle cx="1495.8" cy="770.5" r="4.9"/><circle cx="1465.0" cy="789.5" r="4.9"/><circle cx="1502.0" cy="791.8" r="4.9"/><circle cx="1487.0" cy="803.0" r="4.9"/><circle cx="1428.0" cy="798.5" r="4.9"/><circle cx="1730.5" cy="823.8" r="4.9"/><circle cx="1572.5" cy="872.2" r="4.9"/><circle cx="1540.8" cy="900.2" r="4.9"/><circle cx="1789.0" cy="918.2" r="4.9"/><circle cx="1505.2" cy="979.8" r="4.9"/><circle cx="556.9" cy="354.4" r="4.9"/><circle cx="860.9" cy="390.9" r="4.9"/><circle cx="561.6" cy="435.3" r="4.9"/><circle cx="274.0" cy="853.3" r="4.9"/><circle cx="276.5" cy="858.3" r="4.9"/><circle cx="279.0" cy="866.6" r="4.9"/><circle cx="271.5" cy="870.7" r="4.9"/><circle cx="290.2" cy="868.3" r="4.9"/><circle cx="315.6" cy="863.3" r="4.9"/><circle cx="293.9" cy="876.6" r="4.9"/><circle cx="277.7" cy="891.5" r="4.9"/><circle cx="297.3" cy="883.2" r="4.9"/><circle cx="281.5" cy="897.4" r="4.9"/><circle cx="289.0" cy="899.8" r="4.9"/><circle cx="293.1" cy="901.5" r="4.9"/><circle cx="240.7" cy="912.3" r="4.9"/><circle cx="259.0" cy="912.3" r="4.9"/><circle cx="269.8" cy="912.3" r="4.9"/><circle cx="278.1" cy="909.8" r="4.9"/><circle cx="285.6" cy="911.5" r="4.9"/><circle cx="281.5" cy="920.6" r="4.9"/><circle cx="233.2" cy="942.3" r="4.9"/><circle cx="244.0" cy="946.4" r="4.9"/><circle cx="267.3" cy="935.6" r="4.9"/><circle cx="236.6" cy="953.2" r="4.9"/><circle cx="253.2" cy="960.6" r="4.9"/><circle cx="236.6" cy="988.1" r="4.9"/><circle cx="262.3" cy="991.4" r="4.9"/><circle cx="243.2" cy="995.6" r="4.9"/><circle cx="233.2" cy="998.9" r="4.9"/><circle cx="199.1" cy="1027.2" r="4.9"/><circle cx="276.5" cy="1028.0" r="4.9"/><circle cx="302.3" cy="1019.7" r="4.9"/><circle cx="264.8" cy="1102.9" r="4.9"/><circle cx="1150.3" cy="888.3" r="4.9"/><circle cx="1164.1" cy="893.4" r="4.9"/><circle cx="1190.5" cy="894.0" r="4.9"/><circle cx="1169.1" cy="916.0" r="4.9"/><circle cx="1159.7" cy="921.0" r="4.9"/><circle cx="1110.7" cy="924.2" r="4.9"/><circle cx="1184.9" cy="928.6" r="4.9"/><circle cx="1215.0" cy="924.2" r="4.9"/><circle cx="1108.2" cy="931.7" r="4.9"/><circle cx="1116.3" cy="928.6" r="4.9"/><circle cx="1122.0" cy="930.5" r="4.9"/><circle cx="1135.2" cy="936.7" r="4.9"/><circle cx="1106.3" cy="939.3" r="4.9"/><circle cx="1155.3" cy="938.0" r="4.9"/><circle cx="1193.0" cy="933.6" r="4.9"/><circle cx="1162.9" cy="979.0" r="4.9"/><circle cx="1192.4" cy="989.0" r="4.9"/><circle cx="1184.2" cy="997.2" r="4.9"/><circle cx="1160.3" cy="1006.0" r="4.9"/><circle cx="1162.9" cy="1028.0" r="4.9"/><circle cx="1067.7" cy="1006.3" r="4.9"/><circle cx="1119.2" cy="1017.7" r="4.9"/><circle cx="1134.9" cy="1025.2" r="4.9"/><circle cx="1143.8" cy="943.5" r="4.9"/><circle cx="1102.2" cy="980.0" r="4.9"/><circle cx="1136.5" cy="958.8" r="4.9"/><circle cx="1127.8" cy="966.8" r="4.9"/><circle cx="1110.8" cy="976.0" r="4.9"/><circle cx="1158.8" cy="945.0" r="4.9"/><circle cx="1089.5" cy="941.0" r="4.9"/><circle cx="1122.0" cy="971.5" r="4.9"/><circle cx="1134.2" cy="1017.8" r="4.9"/><circle cx="1105.5" cy="1017.0" r="4.9"/><circle cx="1098.0" cy="986.2" r="4.9"/><circle cx="1151.8" cy="989.5" r="4.9"/><circle cx="1113.8" cy="1005.2" r="4.9"/><circle cx="1150.8" cy="943.8" r="4.9"/><circle cx="1074.0" cy="1020.8" r="4.9"/><circle cx="1151.8" cy="1003.5" r="4.9"/><circle cx="1140.5" cy="1020.5" r="4.9"/><circle cx="1141.0" cy="924.8" r="4.9"/><circle cx="1142.5" cy="1026.8" r="4.9"/><circle cx="1146.8" cy="928.0" r="4.9"/><circle cx="1146.8" cy="984.8" r="4.9"/><circle cx="1104.8" cy="1051.0" r="4.9"/><circle cx="1137.0" cy="943.8" r="4.9"/><circle cx="1132.8" cy="988.2" r="4.9"/><circle cx="1119.5" cy="987.5" r="4.9"/><circle cx="1123.8" cy="915.2" r="4.9"/><circle cx="1148.8" cy="967.8" r="4.9"/><circle cx="1142.5" cy="979.2" r="4.9"/><circle cx="1146.0" cy="1015.5" r="4.9"/><circle cx="1103.2" cy="999.0" r="4.9"/><circle cx="1117.0" cy="975.5" r="4.9"/><circle cx="1096.5" cy="976.8" r="4.9"/><circle cx="1112.2" cy="993.2" r="4.9"/><circle cx="1113.2" cy="1021.5" r="4.9"/><circle cx="1110.5" cy="1030.0" r="4.9"/><circle cx="1097.5" cy="964.2" r="4.9"/><circle cx="1133.0" cy="921.5" r="4.9"/><circle cx="1144.2" cy="937.0" r="4.9"/><circle cx="1108.0" cy="981.5" r="4.9"/><circle cx="1127.2" cy="1005.2" r="4.9"/><circle cx="1111.0" cy="1051.2" r="4.9"/><circle cx="1136.0" cy="976.0" r="4.9"/><circle cx="1141.8" cy="996.8" r="4.9"/><circle cx="1136.8" cy="1000.2" r="4.9"/><circle cx="1094.8" cy="1018.5" r="4.9"/><circle cx="1156.0" cy="958.2" r="4.9"/><circle cx="1144.2" cy="1008.5" r="4.9"/><circle cx="1127.8" cy="981.5" r="4.9"/><circle cx="1146.2" cy="913.5" r="4.9"/><circle cx="1128.8" cy="929.8" r="4.9"/><circle cx="1161.0" cy="968.5" r="4.9"/><circle cx="1071.8" cy="1015.2" r="4.9"/><circle cx="1103.5" cy="985.5" r="4.9"/><circle cx="1108.0" cy="1004.5" r="4.9"/><circle cx="1091.5" cy="932.2" r="4.9"/><circle cx="1106.5" cy="994.2" r="4.9"/><circle cx="1128.0" cy="918.5" r="4.9"/><circle cx="1090.5" cy="970.5" r="4.9"/><circle cx="1086.8" cy="1017.5" r="4.9"/><circle cx="1092.5" cy="1046.8" r="4.9"/><circle cx="1147.2" cy="947.8" r="4.9"/><circle cx="1120.8" cy="957.5" r="4.9"/><circle cx="1101.2" cy="974.5" r="4.9"/><circle cx="1139.0" cy="1007.0" r="4.9"/><circle cx="1103.2" cy="1027.8" r="4.9"/><circle cx="257.5" cy="919.0" r="4.9"/><circle cx="255.5" cy="905.5" r="4.9"/><circle cx="262.8" cy="917.0" r="4.9"/><circle cx="268.0" cy="906.8" r="4.9"/><circle cx="281.2" cy="882.0" r="4.9"/><circle cx="245.2" cy="921.2" r="4.9"/></g>
<path d="M137.1 853.1L147.0 880.7L156.9 900.6L166.8 917.2L176.7 932.5L186.5 945.4L196.4 954.3L206.3 959.1L216.2 960.3L226.1 958.6L236.0 954.1L245.9 947.7L255.8 939.2L265.6 927.2L275.5 909.1L285.4 884.6L295.3 856.4L305.2 829.8L315.1 810.2L325.0 796.5L334.9 785.5L344.7 775.0L354.6 764.5L364.5 753.7L374.4 742.3L384.3 729.9L394.2 716.8L404.1 703.6L414.0 690.8L423.9 678.4L433.7 666.4L443.6 654.9L453.5 643.8L463.4 633.2L473.3 623.0L483.2 613.2L493.1 603.7L503.0 594.7L512.8 586.0L522.7 577.7L532.6 569.8L542.5 562.2L552.4 554.9L562.3 547.9L572.2 541.2L582.1 534.8L591.9 528.7L601.8 522.8L611.7 517.2L621.6 511.8L631.5 506.6L641.4 501.6L651.3 496.7L661.2 492.1L671.1 487.6L680.9 483.3L690.8 479.1L700.7 475.0L710.6 470.8L720.5 466.8L730.4 462.8L740.3 458.9L750.2 455.1L760.0 451.3L769.9 447.2L779.8 442.9L789.7 438.6L799.6 434.5L809.5 430.3L819.4 426.0L829.3 421.3L839.1 416.5L849.0 411.6L858.9 406.5L868.8 401.5L878.7 396.6L888.6 391.4L898.5 386.4L908.4 381.2L918.2 375.7L918.2 767.7L908.4 755.7L898.5 743.9L888.6 732.4L878.7 721.6L868.8 711.1L858.9 701.4L849.0 692.2L839.1 683.5L829.3 675.3L819.4 667.5L809.5 660.1L799.6 653.0L789.7 646.3L779.8 640.5L769.9 635.1L760.0 630.0L750.2 625.2L740.3 620.8L730.4 617.0L720.5 613.7L710.6 610.9L700.7 608.6L690.8 606.6L680.9 605.1L671.1 604.1L661.2 603.6L651.3 603.6L641.4 604.0L631.5 604.9L621.6 606.3L611.7 608.2L601.8 610.5L591.9 613.3L582.1 616.5L572.2 620.2L562.3 624.4L552.4 628.9L542.5 634.0L532.6 639.5L522.7 645.5L512.8 651.9L503.0 658.7L493.1 666.1L483.2 673.9L473.3 682.2L463.4 690.9L453.5 700.2L443.6 709.9L433.7 720.1L423.9 730.8L414.0 742.0L404.1 753.7L394.2 765.7L384.3 777.7L374.4 789.0L364.5 799.4L354.6 809.3L344.7 819.2L334.9 829.3L325.0 840.1L315.1 852.9L305.2 870.4L295.3 893.2L285.4 918.2L275.5 941.7L265.6 959.9L255.8 971.9L245.9 979.4L236.0 984.7L226.1 990.1L216.2 996.4L206.3 1003.8L196.4 1012.7L186.5 1023.7L176.7 1036.6L166.8 1049.8L156.9 1062.1L147.0 1075.4L137.1 1094.1Z" fill="#898989" fill-opacity="0.4" stroke="none"/><path d="M137.1 973.6L147.0 978.1L156.9 981.4L166.8 983.5L176.7 984.6L186.5 984.5L196.4 983.5L206.3 981.4L216.2 978.4L226.1 974.3L236.0 969.4L245.9 963.5L255.8 955.6L265.6 943.5L275.5 925.4L285.4 901.4L295.3 874.8L305.2 850.1L315.1 831.5L325.0 818.3L334.9 807.4L344.7 797.1L354.6 786.9L364.5 776.5L374.4 765.6L384.3 753.8L394.2 741.3L404.1 728.6L414.0 716.4L423.9 704.6L433.7 693.2L443.6 682.4L453.5 672.0L463.4 662.1L473.3 652.6L483.2 643.5L493.1 634.9L503.0 626.7L512.8 618.9L522.7 611.6L532.6 604.6L542.5 598.1L552.4 591.9L562.3 586.1L572.2 580.7L582.1 575.7L591.9 571.0L601.8 566.7L611.7 562.7L621.6 559.0L631.5 555.8L641.4 552.8L651.3 550.2L661.2 547.9L671.1 545.9L680.9 544.2L690.8 542.8L700.7 541.8L710.6 541.0L720.5 540.6L730.4 540.4L740.3 540.5L750.2 540.9L760.0 541.6L769.9 542.5L779.8 543.6L789.7 544.9L799.6 546.4L809.5 548.1L819.4 549.9L829.3 551.9L839.1 553.9L849.0 556.1L858.9 558.3L868.8 560.6L878.7 562.9L888.6 565.3L898.5 567.6L908.4 569.9L918.2 572.2" fill="none" stroke="#2450FF" stroke-width="5.2" stroke-linejoin="round" stroke-linecap="butt"/><path d="M1008.1 927.2L1018.0 941.6L1027.9 954.9L1037.8 966.3L1047.6 975.1L1057.5 981.3L1067.4 984.6L1077.3 985.2L1087.2 983.3L1097.1 979.2L1106.9 973.2L1116.8 965.9L1126.7 957.3L1136.6 947.9L1146.5 937.8L1156.4 927.8L1166.3 918.9L1176.1 911.8L1186.0 906.5L1195.9 902.8L1205.8 900.4L1215.7 898.3L1225.6 896.0L1235.5 893.1L1245.3 889.9L1255.2 886.6L1265.1 883.2L1275.0 879.7L1284.9 876.1L1294.8 872.4L1304.6 868.7L1314.5 864.8L1324.4 860.8L1334.3 856.8L1344.2 852.8L1354.1 848.7L1364.0 844.6L1373.8 840.6L1383.7 836.5L1393.6 832.5L1403.5 828.5L1413.4 824.6L1423.3 820.8L1433.1 817.0L1443.0 813.2L1452.9 809.6L1462.8 806.1L1472.7 802.7L1482.6 799.3L1492.5 796.2L1502.3 793.1L1512.2 790.1L1522.1 787.3L1532.0 784.6L1541.9 782.0L1551.8 779.5L1561.6 777.2L1571.5 774.9L1581.4 772.7L1591.3 770.5L1601.2 768.4L1611.1 766.4L1621.0 764.4L1630.8 762.4L1640.7 760.5L1650.6 758.6L1660.5 756.8L1670.4 755.0L1680.3 753.2L1690.2 751.5L1700.0 749.9L1709.9 748.3L1719.8 746.8L1729.7 745.4L1739.6 744.2L1749.5 743.1L1759.3 742.2L1769.2 741.5L1779.1 741.1L1789.0 741.0L1789.0 943.0L1779.1 935.4L1769.2 927.8L1759.3 920.5L1749.5 913.4L1739.6 906.6L1729.7 900.1L1719.8 894.0L1709.9 888.1L1700.0 882.7L1690.2 877.5L1680.3 872.8L1670.4 868.4L1660.5 864.4L1650.6 860.8L1640.7 857.6L1630.8 854.7L1621.0 852.2L1611.1 850.1L1601.2 848.3L1591.3 846.8L1581.4 845.7L1571.5 844.9L1561.6 844.4L1551.8 844.2L1541.9 844.3L1532.0 844.6L1522.1 845.1L1512.2 845.9L1502.3 846.9L1492.5 848.1L1482.6 849.5L1472.7 851.1L1462.8 852.9L1452.9 854.8L1443.0 856.9L1433.1 859.1L1423.3 861.4L1413.4 863.8L1403.5 866.3L1393.6 868.9L1383.7 871.6L1373.8 874.4L1364.0 877.2L1354.1 880.0L1344.2 882.9L1334.3 885.9L1324.4 888.9L1314.5 891.9L1304.6 895.0L1294.8 898.0L1284.9 901.1L1275.0 904.2L1265.1 907.3L1255.2 910.3L1245.3 913.1L1235.5 915.4L1225.6 917.3L1215.7 918.8L1205.8 920.1L1195.9 922.1L1186.0 925.4L1176.1 930.3L1166.3 937.1L1156.4 945.7L1146.5 955.3L1136.6 965.0L1126.7 974.2L1116.8 982.8L1106.9 990.6L1097.1 997.7L1087.2 1004.1L1077.3 1009.9L1067.4 1015.2L1057.5 1020.4L1047.6 1025.7L1037.8 1031.5L1027.9 1037.7L1018.0 1044.0L1008.1 1050.0Z" fill="#898989" fill-opacity="0.4" stroke="none"/><path d="M1008.1 988.6L1018.0 992.8L1027.9 996.3L1037.8 998.9L1047.6 1000.4L1057.5 1000.8L1067.4 999.9L1077.3 997.6L1087.2 993.7L1097.1 988.4L1106.9 981.9L1116.8 974.3L1126.7 965.8L1136.6 956.5L1146.5 946.6L1156.4 936.8L1166.3 928.0L1176.1 921.1L1186.0 915.9L1195.9 912.5L1205.8 910.3L1215.7 908.6L1225.6 906.6L1235.5 904.3L1245.3 901.5L1255.2 898.5L1265.1 895.3L1275.0 892.0L1284.9 888.6L1294.8 885.2L1304.6 881.8L1314.5 878.3L1324.4 874.9L1334.3 871.4L1344.2 867.9L1354.1 864.4L1364.0 860.9L1373.8 857.5L1383.7 854.1L1393.6 850.7L1403.5 847.4L1413.4 844.2L1423.3 841.1L1433.1 838.0L1443.0 835.1L1452.9 832.2L1462.8 829.5L1472.7 826.9L1482.6 824.4L1492.5 822.1L1502.3 820.0L1512.2 818.0L1522.1 816.2L1532.0 814.6L1541.9 813.1L1551.8 811.9L1561.6 810.8L1571.5 809.9L1581.4 809.2L1591.3 808.7L1601.2 808.4L1611.1 808.2L1621.0 808.3L1630.8 808.6L1640.7 809.0L1650.6 809.7L1660.5 810.6L1670.4 811.7L1680.3 813.0L1690.2 814.5L1700.0 816.3L1709.9 818.2L1719.8 820.4L1729.7 822.8L1739.6 825.4L1749.5 828.3L1759.3 831.4L1769.2 834.7L1779.1 838.2L1789.0 842.0" fill="none" stroke="#2450FF" stroke-width="5.2" stroke-linejoin="round" stroke-linecap="butt"/>
<g opacity="0.999">
<text x="962.7" y="36.3" font-size="34" font-weight="bold" text-anchor="middle" fill="#000">County-level % change in housing units vs rent (2005-2022)</text>
<text x="527.7" y="126" font-size="30" font-weight="bold" text-anchor="middle" fill="#111111">Median Home Value</text>
<text x="1398.7" y="126" font-size="30" font-weight="bold" text-anchor="middle" fill="#111111">Median Rent</text>
<text transform="translate(87,1252.70) scale(1,1.06)" font-size="24" text-anchor="end" fill="#3D3D3D">0</text>
<text transform="translate(87,1039.50) scale(1,1.06)" font-size="24" text-anchor="end" fill="#3D3D3D">50</text>
<text transform="translate(87,826.30) scale(1,1.06)" font-size="24" text-anchor="end" fill="#3D3D3D">100</text>
<text transform="translate(87,613.10) scale(1,1.06)" font-size="24" text-anchor="end" fill="#3D3D3D">150</text>
<text transform="translate(87,399.90) scale(1,1.06)" font-size="24" text-anchor="end" fill="#3D3D3D">200</text>
<text transform="translate(87,186.70) scale(1,1.06)" font-size="24" text-anchor="end" fill="#3D3D3D">250</text>
<text transform="translate(205.40,1381.8) scale(1,1.06)" font-size="24" text-anchor="middle" fill="#3D3D3D">0</text>
<text transform="translate(467.65,1381.8) scale(1,1.06)" font-size="24" text-anchor="middle" fill="#3D3D3D">50</text>
<text transform="translate(729.90,1381.8) scale(1,1.06)" font-size="24" text-anchor="middle" fill="#3D3D3D">100</text>
<text transform="translate(1076.40,1381.8) scale(1,1.06)" font-size="24" text-anchor="middle" fill="#3D3D3D">0</text>
<text transform="translate(1338.65,1381.8) scale(1,1.06)" font-size="24" text-anchor="middle" fill="#3D3D3D">50</text>
<text transform="translate(1600.90,1381.8) scale(1,1.06)" font-size="24" text-anchor="middle" fill="#3D3D3D">100</text>
<text x="963" y="1415.5" font-size="29.8" text-anchor="middle" fill="#000">% change in housing units</text>
<text transform="translate(32.5,744.5) rotate(-90)" font-size="30" text-anchor="middle" fill="#000">% change in metric</text>
</g>
</svg></body></html>
